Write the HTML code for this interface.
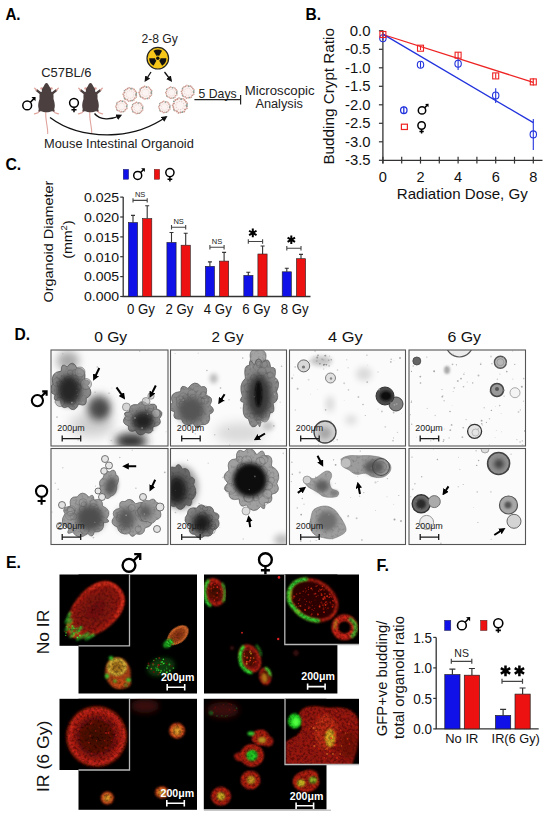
<!DOCTYPE html>
<html><head><meta charset="utf-8">
<style>
html,body{margin:0;padding:0;background:#fff;}
body{width:550px;height:816px;overflow:hidden;position:relative;}
svg{position:absolute;left:0;top:0;display:block;}
text{font-family:"Liberation Sans",sans-serif;}
</style></head><body>
<svg width="550" height="816" viewBox="0 0 550 816">
<defs>
  <g id="mouse">
    <path d="M-0.6,28.5 C-1.6,36 1.6,44 1.2,51" fill="none" stroke="#e0a39c" stroke-width="1.1"/>
    <path d="M-5.8,26.5 L-8.6,29.8 L-12,30.8 M5.8,26.5 L8.6,29.8 L12,30.8" stroke="#e0a39c" stroke-width="1.3" fill="none" stroke-linecap="round"/>
    <path d="M-5,11 L-10.3,6.8 M5,11 L10.3,6.8" stroke="#4b3f3f" stroke-width="2.3" fill="none"/>
    <path d="M-10,7 L-11.8,5.2 M10,7 L11.8,5.2" stroke="#e0a39c" stroke-width="1.3" fill="none" stroke-linecap="round"/>
    <ellipse cx="-4.8" cy="5.4" rx="1.4" ry="1.2" fill="#e0a39c"/><ellipse cx="4.8" cy="5.4" rx="1.4" ry="1.2" fill="#e0a39c"/>
    <path d="M0,0 C1.2,0 2,1.5 2.6,3 L4,5.2 C4.8,6.2 4.8,7.2 4.5,8.2 L6.6,10.3 C7.2,12 7,14 7,16 C7.6,18 8.4,20.5 8.3,23 C8.2,25.5 7.3,27 6,28 C4,29 2,29.3 0,29.3 C-2,29.3 -4,29 -6,28 C-7.3,27 -8.2,25.5 -8.3,23 C-8.4,20.5 -7.6,18 -7,16 C-7,14 -7.2,12 -6.6,10.3 L-4.5,8.2 C-4.8,7.2 -4.8,6.2 -4,5.2 L-2.6,3 C-2,1.5 -1.2,0 0,0 Z" fill="#4b3f3f"/>
    <path d="M-6.5,25 L-7.2,28.5 M6.5,25 L7.2,28.5" stroke="#4b3f3f" stroke-width="2" fill="none"/>
  </g>
  <g id="org"><path d="M5.60,0.00 Q7.14,2.60 4.29,3.60 Q3.80,6.58 0.97,5.51 Q-1.32,7.48 -2.80,4.85 Q-5.82,4.89 -5.26,1.92 Q-7.60,0.00 -5.26,-1.92 Q-5.82,-4.89 -2.80,-4.85 Q-1.32,-7.48 0.97,-5.51 Q3.80,-6.58 4.29,-3.60 Q7.14,-2.60 5.60,-0.00 Z" fill="#fbf4f2" stroke="#c8948a" stroke-width="1.5" stroke-dasharray="1.3 0.5"/><path d="M5.60,0.00 Q7.14,2.60 4.29,3.60 Q3.80,6.58 0.97,5.51 Q-1.32,7.48 -2.80,4.85 Q-5.82,4.89 -5.26,1.92 Q-7.60,0.00 -5.26,-1.92 Q-5.82,-4.89 -2.80,-4.85 Q-1.32,-7.48 0.97,-5.51 Q3.80,-6.58 4.29,-3.60 Q7.14,-2.60 5.60,-0.00 Z" fill="none" stroke="#6fa8a0" stroke-width="1.3" stroke-dasharray="0.8 7"/><circle r="3.6" fill="none" stroke="#e6ccc6" stroke-width="0.9" stroke-dasharray="1 1.2"/></g>
  <marker id="ah" viewBox="0 0 10 10" refX="7" refY="5" markerWidth="4.6" markerHeight="4.6" orient="auto"><path d="M0,0 L10,5 L0,10 z" fill="#111"/></marker>
</defs>
<!-- A -->
<text x="5.4" y="20" font-size="16.5" font-weight="bold" fill="#000" textLength="15.2" lengthAdjust="spacingAndGlyphs">A.</text>
<text x="41.2" y="76.6" font-size="12.4" fill="#222" textLength="50.4" lengthAdjust="spacingAndGlyphs">C57BL/6</text>
<g transform="translate(27.2,105.4)"><circle r="4.4" fill="none" stroke="#000" stroke-width="1.5"/><path d="M3.17,-3.17 L6.52,-6.52" fill="none" stroke="#000" stroke-width="1.5"/><path d="M8.40,-8.40 L4.22,-8.30 L8.30,-4.22 Z" fill="#000"/></g>
<g transform="translate(74,102.8)"><circle r="4.4" fill="none" stroke="#000" stroke-width="1.5"/><path d="M0,4.40 L0,9.46 M-2.55,7.04 L2.55,7.04" fill="none" stroke="#000" stroke-width="1.5"/></g>
<use href="#mouse" x="46.5" y="83"/>
<use href="#mouse" x="90.5" y="83"/>
<path d="M50,117.5 C68,131 92,136 116,134.5 C137,133 153,126 166,117" fill="none" stroke="#111" stroke-width="1.3" marker-end="url(#ah)"/>
<path d="M94.5,113.5 C100,120.5 111,120 120.5,115.5" fill="none" stroke="#111" stroke-width="1.3" marker-end="url(#ah)"/>
<text x="44" y="147.5" font-size="13" fill="#222" textLength="149.8" lengthAdjust="spacingAndGlyphs">Mouse Intestinal Organoid</text>
<text x="141.4" y="43.4" font-size="12.4" fill="#222" textLength="36.4" lengthAdjust="spacingAndGlyphs">2-8 Gy</text>
<g transform="translate(157.8,58.2)">
  <circle r="10.8" fill="#f6c619" stroke="#222" stroke-width="1.2"/>
  <path d="M0,0 L-4.3,-7.45 A8.6,8.6 0 0 1 4.3,-7.45 Z" fill="#111"/>
  <path d="M0,0 L-4.3,-7.45 A8.6,8.6 0 0 1 4.3,-7.45 Z" fill="#111" transform="rotate(120)"/>
  <path d="M0,0 L-4.3,-7.45 A8.6,8.6 0 0 1 4.3,-7.45 Z" fill="#111" transform="rotate(240)"/>
  <circle r="2.6" fill="#f6c619"/><circle r="1.7" fill="#111"/>
</g>
<path d="M151,72 L145.5,80.5" stroke="#111" stroke-width="1.3" marker-end="url(#ah)"/>
<path d="M164.5,72 L171,80.5" stroke="#111" stroke-width="1.3" marker-end="url(#ah)"/>
<use href="#org" transform="translate(130,94.5) scale(1.05)"/>
<use href="#org" transform="translate(145.5,92.7) scale(1)"/>
<use href="#org" transform="translate(121.5,106.4) scale(0.9)"/>
<use href="#org" transform="translate(137.3,108) scale(0.9)"/>
<use href="#org" transform="translate(171.5,92.7) scale(0.9)"/>
<use href="#org" transform="translate(187.8,91.8) scale(1)"/>
<use href="#org" transform="translate(164.5,107) scale(0.9)"/>
<use href="#org" transform="translate(180,105.5) scale(1.15)"/>
<text x="198.6" y="98.4" font-size="12.8" fill="#222" textLength="38" lengthAdjust="spacingAndGlyphs">5 Days</text>
<path d="M194.4,99.6 L240.6,99.6 M240.6,95 L240.6,104.5" stroke="#222" stroke-width="1.2" fill="none"/>
<text x="244.8" y="94.5" font-size="12" fill="#222" textLength="69.8" lengthAdjust="spacingAndGlyphs">Microscopic</text>
<text x="255.4" y="107.6" font-size="12" fill="#222" textLength="47.5" lengthAdjust="spacingAndGlyphs">Analysis</text>
<!-- B -->
<text x="305.6" y="20" font-size="16" font-weight="bold" fill="#000" textLength="15.6" lengthAdjust="spacingAndGlyphs">B.</text>
<path d="M382.9,30.3 L382.9,163.5 M382.9,160.3 L542.5,160.3" fill="none" stroke="#333" stroke-width="1.3"/>
<path d="M378.9,30.8 L382.9,30.8" stroke="#333" stroke-width="1.2"/>
<text x="349.79999999999995" y="35.9" font-size="15" fill="#111" textLength="20.8" lengthAdjust="spacingAndGlyphs">0.0</text>
<path d="M378.9,49.3 L382.9,49.3" stroke="#333" stroke-width="1.2"/>
<text x="344.99999999999994" y="54.4" font-size="15" fill="#111" textLength="25.6" lengthAdjust="spacingAndGlyphs">-0.5</text>
<path d="M378.9,67.8 L382.9,67.8" stroke="#333" stroke-width="1.2"/>
<text x="344.99999999999994" y="72.9" font-size="15" fill="#111" textLength="25.6" lengthAdjust="spacingAndGlyphs">-1.0</text>
<path d="M378.9,86.3 L382.9,86.3" stroke="#333" stroke-width="1.2"/>
<text x="344.99999999999994" y="91.4" font-size="15" fill="#111" textLength="25.6" lengthAdjust="spacingAndGlyphs">-1.5</text>
<path d="M378.9,104.8 L382.9,104.8" stroke="#333" stroke-width="1.2"/>
<text x="344.99999999999994" y="109.9" font-size="15" fill="#111" textLength="25.6" lengthAdjust="spacingAndGlyphs">-2.0</text>
<path d="M378.9,123.3 L382.9,123.3" stroke="#333" stroke-width="1.2"/>
<text x="344.99999999999994" y="128.4" font-size="15" fill="#111" textLength="25.6" lengthAdjust="spacingAndGlyphs">-2.5</text>
<path d="M378.9,141.8 L382.9,141.8" stroke="#333" stroke-width="1.2"/>
<text x="344.99999999999994" y="146.9" font-size="15" fill="#111" textLength="25.6" lengthAdjust="spacingAndGlyphs">-3.0</text>
<path d="M378.9,160.3 L382.9,160.3" stroke="#333" stroke-width="1.2"/>
<text x="344.99999999999994" y="165.4" font-size="15" fill="#111" textLength="25.6" lengthAdjust="spacingAndGlyphs">-3.5</text>
<path d="M382.9,156.8 L382.9,163.6" stroke="#333" stroke-width="1.2"/>
<text x="382.9" y="182.2" font-size="14.6" text-anchor="middle" fill="#111">0</text>
<path d="M401.7,156.8 L401.7,163.6" stroke="#333" stroke-width="1.2"/>
<path d="M420.5,156.8 L420.5,163.6" stroke="#333" stroke-width="1.2"/>
<text x="420.5" y="182.2" font-size="14.6" text-anchor="middle" fill="#111">2</text>
<path d="M439.3,156.8 L439.3,163.6" stroke="#333" stroke-width="1.2"/>
<path d="M458.1,156.8 L458.1,163.6" stroke="#333" stroke-width="1.2"/>
<text x="458.1" y="182.2" font-size="14.6" text-anchor="middle" fill="#111">4</text>
<path d="M476.9,156.8 L476.9,163.6" stroke="#333" stroke-width="1.2"/>
<path d="M495.7,156.8 L495.7,163.6" stroke="#333" stroke-width="1.2"/>
<text x="495.7" y="182.2" font-size="14.6" text-anchor="middle" fill="#111">6</text>
<path d="M514.5,156.8 L514.5,163.6" stroke="#333" stroke-width="1.2"/>
<path d="M533.3,156.8 L533.3,163.6" stroke="#333" stroke-width="1.2"/>
<text x="533.3" y="182.2" font-size="14.6" text-anchor="middle" fill="#111">8</text>
<text x="462.3" y="199.3" font-size="15" text-anchor="middle" fill="#111" textLength="131" lengthAdjust="spacingAndGlyphs">Radiation Dose, Gy</text>
<text transform="translate(334.3,96.3) rotate(-90)" font-size="14" text-anchor="middle" fill="#111" textLength="136.5" lengthAdjust="spacingAndGlyphs">Budding Crypt Ratio</text>
<path d="M382.9,34.5 L533.3,82.4" stroke="#ee2222" stroke-width="1.3"/>
<path d="M382.9,34.1 L533.3,122.6" stroke="#2233dd" stroke-width="1.3"/>
<path d="M382.9,36.4 L382.9,40.0" stroke="#2233dd" stroke-width="1.1"/>
<ellipse cx="382.9" cy="38.2" rx="3.2" ry="3.5" fill="none" stroke="#2233dd" stroke-width="1.1"/>
<path d="M420.5,61.9 L420.5,67.8" stroke="#2233dd" stroke-width="1.1"/>
<ellipse cx="420.5" cy="64.8" rx="3.2" ry="3.5" fill="none" stroke="#2233dd" stroke-width="1.1"/>
<path d="M458.1,57.4 L458.1,70.0" stroke="#2233dd" stroke-width="1.1"/>
<ellipse cx="458.1" cy="63.7" rx="3.2" ry="3.5" fill="none" stroke="#2233dd" stroke-width="1.1"/>
<path d="M495.7,88.2 L495.7,102.9" stroke="#2233dd" stroke-width="1.1"/>
<ellipse cx="495.7" cy="95.5" rx="3.2" ry="3.5" fill="none" stroke="#2233dd" stroke-width="1.1"/>
<path d="M533.3,118.9 L533.3,149.9" stroke="#2233dd" stroke-width="1.1"/>
<ellipse cx="533.3" cy="134.4" rx="3.2" ry="3.5" fill="none" stroke="#2233dd" stroke-width="1.1"/>
<path d="M382.9,32.6 L382.9,36.4" stroke="#ee2222" stroke-width="1.1"/>
<rect x="379.9" y="31.5" width="6" height="6" fill="none" stroke="#ee2222" stroke-width="1.1"/>
<path d="M420.5,46.3 L420.5,50.0" stroke="#ee2222" stroke-width="1.1"/>
<rect x="417.5" y="45.2" width="6" height="6" fill="none" stroke="#ee2222" stroke-width="1.1"/>
<path d="M458.1,52.3 L458.1,58.2" stroke="#ee2222" stroke-width="1.1"/>
<rect x="455.1" y="52.2" width="6" height="6" fill="none" stroke="#ee2222" stroke-width="1.1"/>
<path d="M495.7,73.3 L495.7,78.5" stroke="#ee2222" stroke-width="1.1"/>
<rect x="492.7" y="72.9" width="6" height="6" fill="none" stroke="#ee2222" stroke-width="1.1"/>
<path d="M533.3,78.2 L533.3,85.6" stroke="#ee2222" stroke-width="1.1"/>
<rect x="530.3" y="78.9" width="6" height="6" fill="none" stroke="#ee2222" stroke-width="1.1"/>
<path d="M403.8,106.4 L403.8,114" stroke="#2233dd" stroke-width="1.3"/><ellipse cx="403.8" cy="110.2" rx="3.2" ry="3.3" fill="none" stroke="#2233dd" stroke-width="1.3"/>
<rect x="401.4" y="124.2" width="6" height="5.3" fill="none" stroke="#ee2222" stroke-width="1.2"/>
<g transform="translate(422,110.4)"><circle r="3.7" fill="none" stroke="#000" stroke-width="1.5"/><path d="M2.66,-2.66 L5.02,-5.02" fill="none" stroke="#000" stroke-width="1.5"/><path d="M6.60,-6.60 L3.08,-6.50 L6.50,-3.08 Z" fill="#000"/></g>
<g transform="translate(421.6,125.5)"><circle r="3.7" fill="none" stroke="#000" stroke-width="1.5"/><path d="M0,3.70 L0,7.96 M-2.15,5.92 L2.15,5.92" fill="none" stroke="#000" stroke-width="1.5"/></g>
<!-- C -->
<text x="5.4" y="170.3" font-size="16.5" font-weight="bold" fill="#000" textLength="15.8" lengthAdjust="spacingAndGlyphs">C.</text>
<path d="M123.2,197.1 L123.2,296.5 L310.5,296.5" fill="none" stroke="#333" stroke-width="1.3"/>
<path d="M120.2,296.5 L123.2,296.5" stroke="#333" stroke-width="1.2"/>
<text x="84" y="301.3" font-size="13.2" fill="#111" textLength="35.2" lengthAdjust="spacingAndGlyphs">0.000</text>
<path d="M120.2,276.6 L123.2,276.6" stroke="#333" stroke-width="1.2"/>
<text x="84" y="281.4" font-size="13.2" fill="#111" textLength="35.2" lengthAdjust="spacingAndGlyphs">0.005</text>
<path d="M120.2,256.7 L123.2,256.7" stroke="#333" stroke-width="1.2"/>
<text x="84" y="261.5" font-size="13.2" fill="#111" textLength="35.2" lengthAdjust="spacingAndGlyphs">0.010</text>
<path d="M120.2,236.9 L123.2,236.9" stroke="#333" stroke-width="1.2"/>
<text x="84" y="241.7" font-size="13.2" fill="#111" textLength="35.2" lengthAdjust="spacingAndGlyphs">0.015</text>
<path d="M120.2,217.0 L123.2,217.0" stroke="#333" stroke-width="1.2"/>
<text x="84" y="221.8" font-size="13.2" fill="#111" textLength="35.2" lengthAdjust="spacingAndGlyphs">0.020</text>
<path d="M120.2,197.1 L123.2,197.1" stroke="#333" stroke-width="1.2"/>
<text x="84" y="201.9" font-size="13.2" fill="#111" textLength="35.2" lengthAdjust="spacingAndGlyphs">0.025</text>
<text transform="translate(52.6,241.6) rotate(-90)" font-size="13.3" text-anchor="middle" fill="#111" textLength="122" lengthAdjust="spacingAndGlyphs">Organoid Diameter</text>
<text transform="translate(71.6,239.6) rotate(-90)" font-size="13.3" text-anchor="middle" fill="#111" textLength="38.5" lengthAdjust="spacingAndGlyphs">(mm<tspan font-size="9" dy="-5">2</tspan><tspan dy="5">)</tspan></text>
<path d="M133.0,222.5 L133.0,215.4 M131.0,215.4 L135.0,215.4" stroke="#333" stroke-width="1.1"/>
<rect x="128.4" y="222.5" width="9.2" height="74.0" fill="#1010e8" stroke="#222" stroke-width="0.6"/>
<path d="M147.2,218.6 L147.2,205.8 M145.2,205.8 L149.2,205.8" stroke="#333" stroke-width="1.1"/>
<rect x="142.6" y="218.6" width="9.2" height="77.9" fill="#ee1111" stroke="#222" stroke-width="0.6"/>
<path d="M133.0,200.4 L147.2,200.4 M133.0,198.2 L133.0,202.6 M147.2,198.2 L147.2,202.6" stroke="#444" stroke-width="1.1"/>
<text x="140.1" y="197.4" font-size="7.5" text-anchor="middle" fill="#222">NS</text>
<text x="140.9" y="313.5" font-size="14" text-anchor="middle" fill="#111" textLength="28" lengthAdjust="spacingAndGlyphs">0 Gy</text>
<path d="M171.5,242.4 L171.5,232.5 M169.5,232.5 L173.5,232.5" stroke="#333" stroke-width="1.1"/>
<rect x="166.9" y="242.4" width="9.2" height="54.1" fill="#1010e8" stroke="#222" stroke-width="0.6"/>
<path d="M185.7,245.2 L185.7,233.3 M183.7,233.3 L187.7,233.3" stroke="#333" stroke-width="1.1"/>
<rect x="181.1" y="245.2" width="9.2" height="51.3" fill="#ee1111" stroke="#222" stroke-width="0.6"/>
<path d="M171.5,227.2 L185.7,227.2 M171.5,225.0 L171.5,229.4 M185.7,225.0 L185.7,229.4" stroke="#444" stroke-width="1.1"/>
<text x="178.6" y="224.2" font-size="7.5" text-anchor="middle" fill="#222">NS</text>
<text x="179.4" y="313.5" font-size="14" text-anchor="middle" fill="#111" textLength="28" lengthAdjust="spacingAndGlyphs">2 Gy</text>
<path d="M209.9,266.3 L209.9,261.9 M207.9,261.9 L211.9,261.9" stroke="#333" stroke-width="1.1"/>
<rect x="205.3" y="266.3" width="9.2" height="30.2" fill="#1010e8" stroke="#222" stroke-width="0.6"/>
<path d="M224.1,261.1 L224.1,252.4 M222.1,252.4 L226.1,252.4" stroke="#333" stroke-width="1.1"/>
<rect x="219.5" y="261.1" width="9.2" height="35.4" fill="#ee1111" stroke="#222" stroke-width="0.6"/>
<path d="M209.9,247.3 L224.1,247.3 M209.9,245.1 L209.9,249.5 M224.1,245.1 L224.1,249.5" stroke="#444" stroke-width="1.1"/>
<text x="217.0" y="244.3" font-size="7.5" text-anchor="middle" fill="#222">NS</text>
<text x="217.8" y="313.5" font-size="14" text-anchor="middle" fill="#111" textLength="28" lengthAdjust="spacingAndGlyphs">4 Gy</text>
<path d="M248.3,275.4 L248.3,272.2 M246.3,272.2 L250.3,272.2" stroke="#333" stroke-width="1.1"/>
<rect x="243.8" y="275.4" width="9.2" height="21.1" fill="#1010e8" stroke="#222" stroke-width="0.6"/>
<path d="M262.6,254.0 L262.6,246.0 M260.6,246.0 L264.6,246.0" stroke="#333" stroke-width="1.1"/>
<rect x="257.9" y="254.0" width="9.2" height="42.5" fill="#ee1111" stroke="#222" stroke-width="0.6"/>
<path d="M248.3,241.5 L262.6,241.5 M248.3,239.3 L248.3,243.7 M262.6,239.3 L262.6,243.7" stroke="#444" stroke-width="1.1"/>
<path d="M252.80,228.60 L252.80,237.20 M249.08,230.75 L256.52,235.05 M256.52,230.75 L249.08,235.05 " stroke="#000" stroke-width="2.0" stroke-linecap="butt"/>
<text x="256.2" y="313.5" font-size="14" text-anchor="middle" fill="#111" textLength="28" lengthAdjust="spacingAndGlyphs">6 Gy</text>
<path d="M286.8,271.8 L286.8,268.3 M284.8,268.3 L288.8,268.3" stroke="#333" stroke-width="1.1"/>
<rect x="282.2" y="271.8" width="9.2" height="24.7" fill="#1010e8" stroke="#222" stroke-width="0.6"/>
<path d="M301.0,258.7 L301.0,254.4 M299.0,254.4 L303.0,254.4" stroke="#333" stroke-width="1.1"/>
<rect x="296.4" y="258.7" width="9.2" height="37.8" fill="#ee1111" stroke="#222" stroke-width="0.6"/>
<path d="M286.8,248.3 L301.0,248.3 M286.8,246.1 L286.8,250.5 M301.0,246.1 L301.0,250.5" stroke="#444" stroke-width="1.1"/>
<path d="M291.30,235.40 L291.30,244.00 M287.58,237.55 L295.02,241.85 M295.02,237.55 L287.58,241.85 " stroke="#000" stroke-width="2.0" stroke-linecap="butt"/>
<text x="294.7" y="313.5" font-size="14" text-anchor="middle" fill="#111" textLength="28" lengthAdjust="spacingAndGlyphs">8 Gy</text>
<rect x="123.2" y="169.3" width="5.5" height="10" fill="#1010e8" stroke="#224" stroke-width="0.4"/><g transform="translate(137.7,175.4)"><circle r="4" fill="none" stroke="#000" stroke-width="1.5"/><path d="M2.88,-2.88 L5.49,-5.49" fill="none" stroke="#000" stroke-width="1.5"/><path d="M7.20,-7.20 L3.40,-7.10 L7.10,-3.40 Z" fill="#000"/></g>
<rect x="154.2" y="169.3" width="5.5" height="10" fill="#ee1111" stroke="#422" stroke-width="0.4"/><g transform="translate(169.9,172.6)"><circle r="4.1" fill="none" stroke="#000" stroke-width="1.5"/><path d="M0,4.10 L0,8.81 M-2.38,6.56 L2.38,6.56" fill="none" stroke="#000" stroke-width="1.5"/></g>
<!-- F -->
<text x="376.6" y="571.2" font-size="17" font-weight="bold" fill="#000" textLength="12.5" lengthAdjust="spacingAndGlyphs">F.</text>
<path d="M436.2,637.4 L436.2,728.9 L538.7,728.9" fill="none" stroke="#333" stroke-width="1.3"/>
<path d="M433.2,728.9 L436.2,728.9" stroke="#333" stroke-width="1.2"/>
<text x="413.3" y="734.1" font-size="14" fill="#111" textLength="18.8" lengthAdjust="spacingAndGlyphs">0.0</text>
<path d="M433.2,698.4 L436.2,698.4" stroke="#333" stroke-width="1.2"/>
<text x="413.3" y="703.6" font-size="14" fill="#111" textLength="18.8" lengthAdjust="spacingAndGlyphs">0.5</text>
<path d="M433.2,667.9 L436.2,667.9" stroke="#333" stroke-width="1.2"/>
<text x="413.3" y="673.1" font-size="14" fill="#111" textLength="18.8" lengthAdjust="spacingAndGlyphs">1.0</text>
<path d="M433.2,637.4 L436.2,637.4" stroke="#333" stroke-width="1.2"/>
<text x="413.3" y="642.6" font-size="14" fill="#111" textLength="18.8" lengthAdjust="spacingAndGlyphs">1.5</text>
<text transform="translate(387.3,678.5) rotate(-90)" font-size="13.8" text-anchor="middle" fill="#111" textLength="115.5" lengthAdjust="spacingAndGlyphs">GFP+ve budding/</text>
<text transform="translate(403.6,677.5) rotate(-90)" font-size="13.8" text-anchor="middle" fill="#111" textLength="122.8" lengthAdjust="spacingAndGlyphs">total organoid ratio</text>
<path d="M452.4,674.6 L452.4,669.1 M449.4,669.1 L455.4,669.1" stroke="#333" stroke-width="1.2"/>
<rect x="444.8" y="674.6" width="15.2" height="54.3" fill="#1010e8" stroke="#222" stroke-width="0.7"/>
<path d="M471.9,675.2 L471.9,668.5 M468.9,668.5 L474.9,668.5" stroke="#333" stroke-width="1.2"/>
<rect x="464.3" y="675.2" width="15.2" height="53.7" fill="#ee1111" stroke="#222" stroke-width="0.7"/>
<path d="M451.3,661.3 L471.8,661.3 M451.3,658.8 L451.3,663.8 M471.8,658.8 L471.8,663.8" stroke="#444" stroke-width="1.2"/>
<text x="461.6" y="657.3" font-size="10.5" text-anchor="middle" fill="#222">NS</text>
<path d="M503.1,715.5 L503.1,709.4 M500.1,709.4 L506.1,709.4" stroke="#333" stroke-width="1.2"/>
<rect x="495.5" y="715.5" width="15.2" height="13.4" fill="#1010e8" stroke="#222" stroke-width="0.7"/>
<path d="M522.6,694.1 L522.6,688.0 M519.6,688.0 L525.6,688.0" stroke="#333" stroke-width="1.2"/>
<rect x="515.0" y="694.1" width="15.2" height="34.8" fill="#ee1111" stroke="#222" stroke-width="0.7"/>
<path d="M502.0,681.3 L522.5,681.3 M502.0,678.8 L502.0,683.8 M522.5,678.8 L522.5,683.8" stroke="#444" stroke-width="1.2"/>
<path d="M505.50,665.50 L505.50,676.30 M500.82,668.20 L510.18,673.60 M510.18,668.20 L500.82,673.60 " stroke="#000" stroke-width="2.5" stroke-linecap="butt"/><path d="M519.40,665.50 L519.40,676.30 M514.72,668.20 L524.08,673.60 M524.08,668.20 L514.72,673.60 " stroke="#000" stroke-width="2.5" stroke-linecap="butt"/>
<text x="445.3" y="743.3" font-size="13.5" fill="#111" textLength="33" lengthAdjust="spacingAndGlyphs">No IR</text>
<text x="491.6" y="743.3" font-size="13.5" fill="#111" textLength="48.2" lengthAdjust="spacingAndGlyphs">IR(6 Gy)</text>
<rect x="444.6" y="620.3" width="6.2" height="10.2" fill="#1010e8" stroke="#224" stroke-width="0.5"/><g transform="translate(461.9,625.4)"><circle r="4.4" fill="none" stroke="#000" stroke-width="1.6"/><path d="M3.17,-3.17 L6.42,-6.42" fill="none" stroke="#000" stroke-width="1.6"/><path d="M8.30,-8.30 L4.12,-8.20 L8.20,-4.12 Z" fill="#000"/></g>
<rect x="480.6" y="620.3" width="6.4" height="10.2" fill="#ee1111" stroke="#422" stroke-width="0.5"/><g transform="translate(498.3,623.2)"><circle r="4.5" fill="none" stroke="#000" stroke-width="1.6"/><path d="M0,4.50 L0,9.67 M-2.61,7.20 L2.61,7.20" fill="none" stroke="#000" stroke-width="1.6"/></g>
<!-- ===== Panel D ===== -->
<defs>
<filter id="bl1" x="-50%" y="-50%" width="200%" height="200%"><feGaussianBlur stdDeviation="1"/></filter>
<filter id="bl2" x="-50%" y="-50%" width="200%" height="200%"><feGaussianBlur stdDeviation="2"/></filter>
<filter id="bl3" x="-50%" y="-50%" width="200%" height="200%"><feGaussianBlur stdDeviation="3"/></filter>
<filter id="bl4" x="-50%" y="-50%" width="200%" height="200%"><feGaussianBlur stdDeviation="4.5"/></filter>
<filter id="bl6" x="-50%" y="-50%" width="200%" height="200%"><feGaussianBlur stdDeviation="6"/></filter>
<filter id="gtex" x="-20%" y="-20%" width="140%" height="140%">
 <feGaussianBlur in="SourceGraphic" stdDeviation="0.7" result="b"/>
 <feTurbulence type="fractalNoise" baseFrequency="0.32" numOctaves="3" seed="11" result="n"/>
 <feColorMatrix in="n" type="matrix" values="0.9 0 0 0 0.55  0.9 0 0 0 0.55  0.9 0 0 0 0.55  0 0 0 0 1" result="g"/>
 <feComposite in="b" in2="g" operator="arithmetic" k1="1" k2="0" k3="0" k4="0" result="c"/>
 <feGaussianBlur in="c" stdDeviation="0.4"/>
</filter>
<marker id="dah" viewBox="0 0 10 10" refX="5" refY="5" markerWidth="3.3" markerHeight="3.3" orient="auto"><path d="M0,0 L10,5 L0,10 z" fill="#000"/></marker>
</defs>
<text x="14.6" y="340.4" font-size="17" font-weight="bold" textLength="15.6" lengthAdjust="spacingAndGlyphs">D.</text>
<text x="94.2" y="342" font-size="14.5" fill="#111" textLength="33.0" lengthAdjust="spacingAndGlyphs">0 Gy</text>
<text x="211.4" y="342" font-size="14.5" fill="#111" textLength="32.1" lengthAdjust="spacingAndGlyphs">2 Gy</text>
<text x="328" y="342" font-size="14.5" fill="#111" textLength="34.7" lengthAdjust="spacingAndGlyphs">4 Gy</text>
<text x="447.4" y="342" font-size="14.5" fill="#111" textLength="33.7" lengthAdjust="spacingAndGlyphs">6 Gy</text>
<g transform="translate(37.4,400.6)"><circle r="5.6" fill="none" stroke="#000" stroke-width="2.1"/><path d="M4,-4 L9,-9 M4.8,-9.2 L9.2,-9.2 L9.2,-4.8" fill="none" stroke="#000" stroke-width="2.1"/></g>
<g transform="translate(41.6,491.2)"><circle r="5.6" fill="none" stroke="#000" stroke-width="2.1"/><path d="M0,5.6 L0,13.5 M-4,9.8 L4,9.8" fill="none" stroke="#000" stroke-width="2.1"/></g>
<clipPath id="dclip00"><rect x="51" y="350" width="117" height="96"/></clipPath>
<g clip-path="url(#dclip00)">
<rect x="51" y="350" width="117" height="96" fill="#fbfbfb"/>
<ellipse cx="68" cy="361" rx="11" ry="10" fill="#a8a8a8" filter="url(#bl4)"/>
<ellipse cx="92" cy="425" rx="22" ry="12" fill="#d0d0d0" filter="url(#bl6)"/>
<path d="M87.7,385.5 Q94.9,394.0 86.3,398.5 Q87.4,408.0 78.6,404.1 Q74.5,414.1 68.0,406.6 Q60.7,410.6 60.4,399.9 Q52.1,402.3 55.0,395.0 Q46.0,391.0 52.8,384.1 Q49.8,372.2 61.2,371.1 Q61.1,361.4 67.2,367.1 Q72.7,358.7 77.0,368.1 Q86.7,367.8 84.8,379.9 Q92.7,380.7 87.7,385.5 Z" fill="#8c8c8c" stroke="#505050" stroke-width="0.7" filter="url(#gtex)"/>
<g opacity="0.55"><circle cx="78.4" cy="387.6" r="3.3" fill="none" stroke="#555" stroke-width="0.6"/><circle cx="67.9" cy="378.9" r="2.7" fill="none" stroke="#555" stroke-width="0.6"/><circle cx="72.5" cy="402.0" r="2.8" fill="none" stroke="#555" stroke-width="0.6"/><circle cx="70.3" cy="372.7" r="2.8" fill="none" stroke="#555" stroke-width="0.6"/><circle cx="60.3" cy="384.2" r="3.3" fill="none" stroke="#555" stroke-width="0.6"/><circle cx="78.2" cy="386.8" r="2.5" fill="none" stroke="#555" stroke-width="0.6"/><circle cx="80.8" cy="382.6" r="2.9" fill="none" stroke="#555" stroke-width="0.6"/><circle cx="66.1" cy="397.1" r="4.4" fill="none" stroke="#555" stroke-width="0.6"/><circle cx="73.1" cy="396.5" r="3.7" fill="none" stroke="#555" stroke-width="0.6"/><circle cx="56.9" cy="382.1" r="4.2" fill="none" stroke="#555" stroke-width="0.6"/><circle cx="65.8" cy="394.6" r="4.2" fill="none" stroke="#555" stroke-width="0.6"/><circle cx="77.3" cy="386.5" r="4.0" fill="none" stroke="#555" stroke-width="0.6"/><circle cx="79.5" cy="376.5" r="2.9" fill="none" stroke="#555" stroke-width="0.6"/><circle cx="74.8" cy="372.7" r="2.9" fill="none" stroke="#555" stroke-width="0.6"/></g>
<circle cx="86" cy="384" r="5.5" fill="#999" stroke="#666" stroke-width="0.6" fill-opacity="0.5"/>
<circle cx="80" cy="372" r="5" fill="#999" stroke="#666" stroke-width="0.6" fill-opacity="0.5"/>
<circle cx="60" cy="402" r="4.5" fill="#999" stroke="#666" stroke-width="0.6" fill-opacity="0.5"/>
<ellipse cx="69" cy="390" rx="12" ry="15" fill="#262626" filter="url(#bl3)"/>
<ellipse cx="99" cy="408" rx="12" ry="13" fill="#585858" filter="url(#bl4)"/>
<ellipse cx="100" cy="409" rx="6" ry="6" fill="#454545" filter="url(#bl3)"/>
<path d="M159.5,418.6 Q163.0,425.6 153.1,426.8 Q153.1,435.1 145.5,432.6 Q139.6,438.3 135.5,430.7 Q127.4,433.3 128.3,426.0 Q119.8,422.6 125.9,416.1 Q121.7,411.9 129.5,411.8 Q128.8,403.4 137.3,404.7 Q143.3,398.2 148.5,405.2 Q157.1,401.7 156.7,408.9 Q165.7,411.7 159.5,418.6 Z" fill="#8e8e8e" stroke="#555" stroke-width="0.7" filter="url(#gtex)"/>
<g opacity="0.55"><circle cx="149.1" cy="421.5" r="3.1" fill="none" stroke="#555" stroke-width="0.6"/><circle cx="150.6" cy="412.2" r="3.9" fill="none" stroke="#555" stroke-width="0.6"/><circle cx="150.6" cy="423.8" r="4.2" fill="none" stroke="#555" stroke-width="0.6"/><circle cx="128.5" cy="416.2" r="4.3" fill="none" stroke="#555" stroke-width="0.6"/><circle cx="138.3" cy="421.7" r="4.0" fill="none" stroke="#555" stroke-width="0.6"/><circle cx="145.9" cy="421.7" r="4.0" fill="none" stroke="#555" stroke-width="0.6"/><circle cx="149.2" cy="407.9" r="4.4" fill="none" stroke="#555" stroke-width="0.6"/><circle cx="144.0" cy="423.8" r="2.7" fill="none" stroke="#555" stroke-width="0.6"/><circle cx="148.9" cy="417.1" r="2.8" fill="none" stroke="#555" stroke-width="0.6"/><circle cx="148.1" cy="418.7" r="2.6" fill="none" stroke="#555" stroke-width="0.6"/><circle cx="137.5" cy="423.6" r="3.1" fill="none" stroke="#555" stroke-width="0.6"/><circle cx="148.8" cy="415.0" r="4.1" fill="none" stroke="#555" stroke-width="0.6"/></g>
<circle cx="146" cy="401.5" r="4" fill="#bbb" stroke="#666" stroke-width="0.6" fill-opacity="0.6"/>
<circle cx="155.8" cy="413.5" r="4.2" fill="#bbb" stroke="#666" stroke-width="0.6" fill-opacity="0.6"/>
<circle cx="126.4" cy="407" r="4" fill="#bbb" stroke="#666" stroke-width="0.6" fill-opacity="0.6"/>
<circle cx="151" cy="396" r="3.2" fill="#bbb" stroke="#666" stroke-width="0.6" fill-opacity="0.6"/>
<ellipse cx="143" cy="421" rx="11" ry="10" fill="#222" filter="url(#bl3)"/>
<ellipse cx="131" cy="441" rx="16" ry="8" fill="#303030" filter="url(#bl4)"/>
<circle cx="67.5" cy="430.7" r="0.8" fill="#aaa" opacity="0.53"/><circle cx="109.0" cy="393.3" r="0.7" fill="#aaa" opacity="0.79"/><circle cx="62.8" cy="353.7" r="0.8" fill="#aaa" opacity="0.62"/><circle cx="139.7" cy="351.2" r="0.6" fill="#aaa" opacity="0.76"/><circle cx="78.3" cy="439.9" r="0.9" fill="#aaa" opacity="0.42"/><circle cx="54.9" cy="401.9" r="0.9" fill="#aaa" opacity="0.59"/><circle cx="76.9" cy="390.7" r="0.4" fill="#aaa" opacity="0.51"/><circle cx="102.4" cy="397.6" r="0.5" fill="#aaa" opacity="0.52"/><circle cx="77.2" cy="394.2" r="0.5" fill="#aaa" opacity="0.41"/><circle cx="148.3" cy="403.3" r="0.7" fill="#aaa" opacity="0.49"/><circle cx="166.1" cy="431.8" r="0.5" fill="#aaa" opacity="0.57"/><circle cx="135.0" cy="417.9" r="0.9" fill="#aaa" opacity="0.61"/><circle cx="147.5" cy="414.0" r="0.6" fill="#aaa" opacity="0.69"/><circle cx="153.5" cy="430.5" r="0.7" fill="#aaa" opacity="0.69"/><circle cx="56.0" cy="373.8" r="0.8" fill="#aaa" opacity="0.61"/><circle cx="71.9" cy="402.6" r="0.8" fill="#aaa" opacity="0.74"/><circle cx="95.1" cy="392.3" r="0.7" fill="#aaa" opacity="0.79"/><circle cx="111.9" cy="388.0" r="0.6" fill="#aaa" opacity="0.41"/><circle cx="57.0" cy="417.1" r="0.9" fill="#aaa" opacity="0.70"/><circle cx="97.3" cy="367.0" r="0.7" fill="#aaa" opacity="0.89"/><circle cx="140.6" cy="401.7" r="0.8" fill="#aaa" opacity="0.52"/><circle cx="111.1" cy="440.5" r="0.7" fill="#aaa" opacity="0.63"/><circle cx="83.0" cy="402.5" r="0.9" fill="#aaa" opacity="0.40"/><circle cx="142.1" cy="428.1" r="0.8" fill="#aaa" opacity="0.77"/><circle cx="145.1" cy="399.8" r="0.7" fill="#aaa" opacity="0.61"/>
<path d="M99.3,368 L94.6,377.8" stroke="#000" stroke-width="2" marker-end="url(#dah)"/>
<path d="M116.5,387.3 L123.2,396.8" stroke="#000" stroke-width="2" marker-end="url(#dah)"/>
<path d="M155.8,385.5 L151,395" stroke="#000" stroke-width="2" marker-end="url(#dah)"/>
<text x="57.3" y="430.6" font-size="8.8" fill="#1a1a1a" textLength="27.4" lengthAdjust="spacingAndGlyphs">200μm</text>
<path d="M62.2,438.6 L80.7,438.6 M62.2,435.6 L62.2,441.6 M80.7,435.6 L80.7,441.6" stroke="#1a1a1a" stroke-width="1.3"/>
</g>
<rect x="51" y="350" width="117" height="96" fill="none" stroke="#555" stroke-width="1.1"/>
<clipPath id="dclip10"><rect x="170.5" y="350" width="116.0" height="96"/></clipPath>
<g clip-path="url(#dclip10)">
<rect x="170.5" y="350" width="116.0" height="96" fill="#fbfbfb"/>
<ellipse cx="240" cy="433" rx="25" ry="10" fill="#d8d8d8" filter="url(#bl6)"/>
<path d="M209.9,405.1 Q217.3,411.1 209.5,414.3 Q211.4,426.0 200.6,424.8 Q197.8,431.8 192.8,423.1 Q184.2,428.7 181.4,419.1 Q171.4,420.3 174.6,412.2 Q164.9,408.4 172.4,402.8 Q168.5,392.4 180.5,391.5 Q180.5,382.9 187.9,388.4 Q194.7,378.5 201.3,386.8 Q208.8,384.8 205.8,395.2 Q215.0,397.3 209.9,405.1 Z" fill="#8c8c8c" stroke="#5a5a5a" stroke-width="0.7" filter="url(#gtex)"/>
<g opacity="0.55"><circle cx="180.3" cy="400.0" r="4.1" fill="none" stroke="#555" stroke-width="0.6"/><circle cx="190.6" cy="420.1" r="4.3" fill="none" stroke="#555" stroke-width="0.6"/><circle cx="200.9" cy="400.9" r="3.8" fill="none" stroke="#555" stroke-width="0.6"/><circle cx="183.4" cy="397.3" r="4.4" fill="none" stroke="#555" stroke-width="0.6"/><circle cx="180.8" cy="403.8" r="4.4" fill="none" stroke="#555" stroke-width="0.6"/><circle cx="185.9" cy="397.8" r="3.1" fill="none" stroke="#555" stroke-width="0.6"/><circle cx="185.5" cy="406.2" r="3.7" fill="none" stroke="#555" stroke-width="0.6"/><circle cx="191.9" cy="393.9" r="4.2" fill="none" stroke="#555" stroke-width="0.6"/><circle cx="205.1" cy="400.1" r="3.9" fill="none" stroke="#555" stroke-width="0.6"/><circle cx="198.6" cy="411.1" r="4.5" fill="none" stroke="#555" stroke-width="0.6"/><circle cx="190.9" cy="415.6" r="4.3" fill="none" stroke="#555" stroke-width="0.6"/><circle cx="193.0" cy="397.4" r="3.1" fill="none" stroke="#555" stroke-width="0.6"/><circle cx="193.5" cy="416.5" r="2.5" fill="none" stroke="#555" stroke-width="0.6"/><circle cx="182.3" cy="404.3" r="3.3" fill="none" stroke="#555" stroke-width="0.6"/><circle cx="196.3" cy="413.7" r="2.6" fill="none" stroke="#555" stroke-width="0.6"/><circle cx="203.5" cy="395.2" r="3.6" fill="none" stroke="#555" stroke-width="0.6"/><circle cx="199.4" cy="412.3" r="2.7" fill="none" stroke="#555" stroke-width="0.6"/><circle cx="189.9" cy="412.9" r="3.1" fill="none" stroke="#555" stroke-width="0.6"/></g>
<ellipse cx="191" cy="410" rx="13" ry="13" fill="#555" filter="url(#bl3)"/>
<ellipse cx="213.7" cy="378.5" rx="4" ry="5" fill="#bbb" filter="url(#bl2)"/>
<path d="M265.6,359.6 Q267.4,367.1 262.2,369.0 Q259.0,376.0 254.7,370.9 Q248.5,368.0 250.4,358.6 Q248.9,350.7 254.1,349.4 Q258.4,343.3 262.3,350.2 Q267.4,352.0 265.6,359.6 Z" fill="#a4a4a4" stroke="#6a6a6a" stroke-width="0.7" filter="url(#gtex)"/>
<path d="M276.6,391.6 Q280.1,400.1 273.1,403.5 Q275.8,413.7 270.2,412.9 Q268.0,426.4 261.2,420.3 Q259.9,431.5 258.3,423.4 Q251.3,432.6 248.4,419.0 Q241.0,417.3 243.9,402.4 Q237.8,401.8 242.4,396.2 Q238.1,384.9 245.4,378.3 Q242.9,364.9 249.3,365.3 Q249.4,356.3 254.3,365.4 Q257.8,353.7 262.4,362.7 Q269.0,355.0 270.8,367.7 Q277.3,365.7 274.8,377.2 Q281.4,381.7 276.6,391.6 Z" fill="#8a8a8a" stroke="#5a5a5a" stroke-width="0.7" filter="url(#gtex)"/>
<g opacity="0.55"><circle cx="248.4" cy="387.6" r="4.2" fill="none" stroke="#555" stroke-width="0.6"/><circle cx="270.2" cy="375.1" r="3.2" fill="none" stroke="#555" stroke-width="0.6"/><circle cx="269.0" cy="385.2" r="3.1" fill="none" stroke="#555" stroke-width="0.6"/><circle cx="268.4" cy="404.8" r="2.8" fill="none" stroke="#555" stroke-width="0.6"/><circle cx="257.8" cy="416.3" r="4.1" fill="none" stroke="#555" stroke-width="0.6"/><circle cx="259.6" cy="377.8" r="2.6" fill="none" stroke="#555" stroke-width="0.6"/><circle cx="259.1" cy="415.6" r="4.2" fill="none" stroke="#555" stroke-width="0.6"/><circle cx="263.7" cy="364.3" r="3.7" fill="none" stroke="#555" stroke-width="0.6"/><circle cx="253.7" cy="377.7" r="3.1" fill="none" stroke="#555" stroke-width="0.6"/><circle cx="262.5" cy="414.4" r="3.7" fill="none" stroke="#555" stroke-width="0.6"/><circle cx="250.8" cy="382.7" r="3.3" fill="none" stroke="#555" stroke-width="0.6"/><circle cx="259.6" cy="419.5" r="3.7" fill="none" stroke="#555" stroke-width="0.6"/><circle cx="259.4" cy="364.5" r="3.1" fill="none" stroke="#555" stroke-width="0.6"/><circle cx="266.0" cy="404.6" r="4.3" fill="none" stroke="#555" stroke-width="0.6"/><circle cx="262.0" cy="371.6" r="4.1" fill="none" stroke="#555" stroke-width="0.6"/><circle cx="252.3" cy="415.6" r="2.7" fill="none" stroke="#555" stroke-width="0.6"/><circle cx="258.7" cy="362.3" r="3.3" fill="none" stroke="#555" stroke-width="0.6"/><circle cx="252.5" cy="395.6" r="3.1" fill="none" stroke="#555" stroke-width="0.6"/><circle cx="260.4" cy="410.9" r="2.6" fill="none" stroke="#555" stroke-width="0.6"/><circle cx="257.4" cy="406.0" r="3.5" fill="none" stroke="#555" stroke-width="0.6"/></g>
<ellipse cx="259" cy="396" rx="12" ry="22" fill="#383838" filter="url(#bl3)"/>
<ellipse cx="258.5" cy="394" rx="3.5" ry="13" fill="#080808" filter="url(#bl1)"/>
<ellipse cx="268" cy="426" rx="6" ry="5" fill="#c8c8c8" filter="url(#bl2)"/>
<circle cx="280.9" cy="440.1" r="0.4" fill="#aaa" opacity="0.44"/><circle cx="267.1" cy="420.2" r="0.7" fill="#aaa" opacity="0.55"/><circle cx="240.7" cy="408.0" r="0.7" fill="#aaa" opacity="0.48"/><circle cx="220.5" cy="388.0" r="0.8" fill="#aaa" opacity="0.90"/><circle cx="280.2" cy="402.2" r="0.6" fill="#aaa" opacity="0.53"/><circle cx="175.1" cy="353.6" r="0.6" fill="#aaa" opacity="0.56"/><circle cx="214.7" cy="434.8" r="0.7" fill="#aaa" opacity="0.68"/><circle cx="198.2" cy="353.2" r="0.6" fill="#aaa" opacity="0.47"/><circle cx="229.7" cy="444.9" r="0.7" fill="#aaa" opacity="0.49"/><circle cx="273.8" cy="425.9" r="0.8" fill="#aaa" opacity="0.85"/><circle cx="258.7" cy="425.2" r="0.6" fill="#aaa" opacity="0.89"/><circle cx="281.6" cy="366.2" r="0.8" fill="#aaa" opacity="0.76"/><circle cx="224.1" cy="400.9" r="0.6" fill="#aaa" opacity="0.86"/><circle cx="228.6" cy="429.2" r="0.6" fill="#aaa" opacity="0.84"/><circle cx="274.5" cy="394.3" r="0.7" fill="#aaa" opacity="0.86"/><circle cx="254.2" cy="396.7" r="0.5" fill="#aaa" opacity="0.56"/><circle cx="251.5" cy="366.6" r="0.9" fill="#aaa" opacity="0.53"/><circle cx="275.8" cy="380.1" r="0.9" fill="#aaa" opacity="0.75"/><circle cx="229.0" cy="399.7" r="0.7" fill="#aaa" opacity="0.69"/><circle cx="206.9" cy="370.5" r="0.7" fill="#aaa" opacity="0.87"/><circle cx="242.7" cy="358.1" r="0.8" fill="#aaa" opacity="0.76"/><circle cx="275.4" cy="369.0" r="0.8" fill="#aaa" opacity="0.43"/><circle cx="246.1" cy="376.7" r="0.5" fill="#aaa" opacity="0.84"/><circle cx="183.2" cy="400.1" r="0.8" fill="#aaa" opacity="0.52"/><circle cx="195.2" cy="433.8" r="0.6" fill="#aaa" opacity="0.76"/>
<path d="M224.6,394.3 L220,401.4" stroke="#000" stroke-width="2" marker-end="url(#dah)"/>
<path d="M265,433.5 L256.5,438.6" stroke="#000" stroke-width="2" marker-end="url(#dah)"/>
<text x="176.8" y="430.6" font-size="8.8" fill="#1a1a1a" textLength="27.4" lengthAdjust="spacingAndGlyphs">200μm</text>
<path d="M181.7,438.6 L200.2,438.6 M181.7,435.6 L181.7,441.6 M200.2,435.6 L200.2,441.6" stroke="#1a1a1a" stroke-width="1.3"/>
</g>
<rect x="170.5" y="350" width="116.0" height="96" fill="none" stroke="#555" stroke-width="1.1"/>
<clipPath id="dclip20"><rect x="289.5" y="350" width="116.0" height="96"/></clipPath>
<g clip-path="url(#dclip20)">
<rect x="289.5" y="350" width="116.0" height="96" fill="#fbfbfb"/>
<ellipse cx="321" cy="361" rx="11" ry="5" fill="#c4c4c4" filter="url(#bl2)"/>
<circle cx="316.8" cy="361.0" r="0.6" fill="#777" opacity="0.70"/><circle cx="324.5" cy="355.7" r="0.4" fill="#777" opacity="0.82"/><circle cx="317.2" cy="357.6" r="1.0" fill="#777" opacity="0.64"/><circle cx="328.7" cy="360.2" r="0.8" fill="#777" opacity="0.48"/><circle cx="324.7" cy="364.5" r="0.7" fill="#777" opacity="0.77"/><circle cx="325.4" cy="355.7" r="0.9" fill="#777" opacity="0.70"/><circle cx="318.0" cy="355.3" r="0.9" fill="#777" opacity="0.64"/><circle cx="326.4" cy="364.7" r="0.8" fill="#777" opacity="0.86"/><circle cx="319.9" cy="363.8" r="0.7" fill="#777" opacity="0.87"/><circle cx="329.6" cy="356.1" r="0.5" fill="#777" opacity="0.51"/><circle cx="331.3" cy="359.8" r="0.8" fill="#777" opacity="0.55"/><circle cx="322.1" cy="359.2" r="0.6" fill="#777" opacity="0.69"/><circle cx="323.7" cy="364.9" r="0.8" fill="#777" opacity="0.86"/><circle cx="329.1" cy="365.9" r="0.8" fill="#777" opacity="0.48"/>
<circle cx="303.7" cy="365.9" r="6" fill="#d8d8d8" stroke="#555" stroke-width="0.9"/>
<circle cx="303.5" cy="367" r="1.6" fill="#777"/>
<circle cx="330.5" cy="378" r="5" fill="#e0e0e0" stroke="#666" stroke-width="0.8"/>
<circle cx="331" cy="378.5" r="1.2" fill="#888"/>
<ellipse cx="364" cy="374" rx="8" ry="7" fill="#dadada" filter="url(#bl3)"/>
<ellipse cx="330" cy="404" rx="4" ry="8" fill="#d8d8d8" filter="url(#bl3)"/>
<ellipse cx="351" cy="420" rx="6" ry="5" fill="#dedede" filter="url(#bl3)"/>
<circle cx="396" cy="404" r="7" fill="#808080" stroke="#444" stroke-width="1.0"/>
<circle cx="385" cy="396" r="9" fill="#4a4a4a" stroke="#333" stroke-width="1.0"/>
<ellipse cx="386" cy="396" rx="6" ry="5" fill="#111" filter="url(#bl1)"/>
<circle cx="325" cy="432" r="11" fill="#d0d0d0" stroke="#444" stroke-width="1.3"/>
<ellipse cx="325" cy="433" rx="6" ry="6" fill="#a8a8a8" filter="url(#bl2)"/>
<circle cx="317.1" cy="360.7" r="0.6" fill="#aaa" opacity="0.48"/><circle cx="297.6" cy="388.7" r="1.0" fill="#aaa" opacity="0.80"/><circle cx="378.0" cy="371.9" r="0.7" fill="#aaa" opacity="0.54"/><circle cx="309.9" cy="361.0" r="0.5" fill="#aaa" opacity="0.86"/><circle cx="385.3" cy="426.8" r="0.9" fill="#aaa" opacity="0.50"/><circle cx="325.6" cy="409.9" r="0.8" fill="#aaa" opacity="0.83"/><circle cx="391.2" cy="359.2" r="0.8" fill="#aaa" opacity="0.74"/><circle cx="348.2" cy="367.7" r="0.7" fill="#aaa" opacity="0.44"/><circle cx="397.5" cy="432.4" r="0.7" fill="#aaa" opacity="0.55"/><circle cx="394.5" cy="404.8" r="0.9" fill="#aaa" opacity="0.82"/><circle cx="348.5" cy="389.9" r="0.8" fill="#aaa" opacity="0.62"/><circle cx="308.6" cy="379.7" r="0.9" fill="#aaa" opacity="0.42"/><circle cx="295.3" cy="409.9" r="0.6" fill="#aaa" opacity="0.67"/><circle cx="344.2" cy="383.2" r="1.0" fill="#aaa" opacity="0.50"/><circle cx="337.5" cy="370.1" r="0.8" fill="#aaa" opacity="0.54"/><circle cx="330.9" cy="421.2" r="0.6" fill="#aaa" opacity="0.68"/><circle cx="394.0" cy="360.5" r="0.4" fill="#aaa" opacity="0.51"/><circle cx="378.0" cy="408.9" r="0.5" fill="#aaa" opacity="0.57"/><circle cx="310.4" cy="394.1" r="0.4" fill="#aaa" opacity="0.75"/><circle cx="393.0" cy="440.7" r="0.8" fill="#aaa" opacity="0.88"/><circle cx="292.1" cy="378.2" r="1.0" fill="#aaa" opacity="0.79"/><circle cx="337.2" cy="439.7" r="0.8" fill="#aaa" opacity="0.81"/><circle cx="323.7" cy="369.0" r="0.7" fill="#aaa" opacity="0.47"/><circle cx="333.9" cy="441.4" r="0.6" fill="#aaa" opacity="0.40"/><circle cx="295.2" cy="366.9" r="0.9" fill="#aaa" opacity="0.58"/><circle cx="323.4" cy="360.1" r="1.0" fill="#aaa" opacity="0.61"/><circle cx="313.9" cy="356.6" r="0.4" fill="#aaa" opacity="0.48"/><circle cx="367.8" cy="365.1" r="0.4" fill="#aaa" opacity="0.65"/><circle cx="318.6" cy="444.8" r="0.5" fill="#aaa" opacity="0.66"/><circle cx="379.0" cy="389.5" r="1.0" fill="#aaa" opacity="0.64"/><circle cx="317.8" cy="389.6" r="0.4" fill="#aaa" opacity="0.61"/><circle cx="318.6" cy="434.6" r="0.9" fill="#aaa" opacity="0.65"/><circle cx="293.6" cy="374.9" r="0.5" fill="#aaa" opacity="0.50"/><circle cx="316.6" cy="432.8" r="0.5" fill="#aaa" opacity="0.43"/><circle cx="396.7" cy="404.1" r="1.0" fill="#aaa" opacity="0.60"/><circle cx="393.6" cy="412.5" r="0.9" fill="#aaa" opacity="0.77"/><circle cx="346.8" cy="359.7" r="0.5" fill="#aaa" opacity="0.84"/><circle cx="393.5" cy="437.9" r="0.6" fill="#aaa" opacity="0.73"/><circle cx="381.9" cy="411.4" r="0.9" fill="#aaa" opacity="0.66"/><circle cx="365.3" cy="415.5" r="0.6" fill="#aaa" opacity="0.86"/><circle cx="400.0" cy="358.0" r="1.0" fill="#aaa" opacity="0.88"/><circle cx="366.9" cy="355.2" r="0.9" fill="#aaa" opacity="0.46"/><circle cx="401.4" cy="413.7" r="0.4" fill="#aaa" opacity="0.48"/><circle cx="363.0" cy="404.5" r="0.8" fill="#aaa" opacity="0.86"/><circle cx="315.1" cy="351.3" r="1.0" fill="#aaa" opacity="0.41"/><circle cx="390.8" cy="361.9" r="0.9" fill="#aaa" opacity="0.79"/><circle cx="391.0" cy="402.8" r="0.9" fill="#aaa" opacity="0.50"/><circle cx="367.2" cy="382.1" r="0.9" fill="#aaa" opacity="0.79"/><circle cx="344.2" cy="400.5" r="0.4" fill="#aaa" opacity="0.42"/><circle cx="358.4" cy="397.0" r="0.9" fill="#aaa" opacity="0.70"/>
<text x="295.8" y="430.6" font-size="8.8" fill="#1a1a1a" textLength="27.4" lengthAdjust="spacingAndGlyphs">200μm</text>
<path d="M300.7,438.6 L319.2,438.6 M300.7,435.6 L300.7,441.6 M319.2,435.6 L319.2,441.6" stroke="#1a1a1a" stroke-width="1.3"/>
</g>
<rect x="289.5" y="350" width="116.0" height="96" fill="none" stroke="#555" stroke-width="1.1"/>
<clipPath id="dclip30"><rect x="409" y="350" width="116.5" height="96"/></clipPath>
<g clip-path="url(#dclip30)">
<rect x="409" y="350" width="116.5" height="96" fill="#fbfbfb"/>
<circle cx="459.4" cy="343.5" r="13.5" fill="#ececec" stroke="#555" stroke-width="1.2"/>
<circle cx="416.8" cy="361" r="4" fill="#666" stroke="#444" stroke-width="0.8"/>
<circle cx="500.4" cy="362.2" r="6" fill="#b8b8b8" stroke="#555" stroke-width="1.4"/>
<circle cx="500.4" cy="362.2" r="3.5" fill="none" stroke="#888" stroke-width="0.6"/>
<circle cx="497" cy="390" r="6.5" fill="#999" stroke="#444" stroke-width="1.5"/>
<circle cx="497" cy="389" r="2" fill="#555"/>
<circle cx="515" cy="392.7" r="5" fill="#f4f4f4" stroke="#888" stroke-width="0.7"/>
<circle cx="474.6" cy="431.3" r="7" fill="#e4e4e4" stroke="#333" stroke-width="1.3"/>
<circle cx="475.5" cy="432.5" r="3.5" fill="none" stroke="#999" stroke-width="0.6"/>
<ellipse cx="447" cy="370" rx="3" ry="4" fill="#aaa" filter="url(#bl1)"/>
<circle cx="481.6" cy="420.7" r="0.9" fill="#999" opacity="0.87"/><circle cx="495.1" cy="437.7" r="0.4" fill="#999" opacity="0.63"/><circle cx="518.5" cy="412.0" r="0.9" fill="#999" opacity="0.46"/><circle cx="463.9" cy="374.2" r="0.7" fill="#999" opacity="0.69"/><circle cx="411.5" cy="371.4" r="0.6" fill="#999" opacity="0.86"/><circle cx="498.1" cy="366.0" r="0.9" fill="#999" opacity="0.47"/><circle cx="481.0" cy="362.9" r="0.4" fill="#999" opacity="0.84"/><circle cx="434.1" cy="371.3" r="1.0" fill="#999" opacity="0.84"/><circle cx="443.3" cy="441.4" r="0.7" fill="#999" opacity="0.74"/><circle cx="433.5" cy="439.5" r="0.8" fill="#999" opacity="0.88"/><circle cx="512.8" cy="379.1" r="0.6" fill="#999" opacity="0.48"/><circle cx="426.8" cy="357.1" r="0.6" fill="#999" opacity="0.70"/><circle cx="410.4" cy="414.7" r="0.6" fill="#999" opacity="0.55"/><circle cx="504.1" cy="396.2" r="0.6" fill="#999" opacity="0.64"/><circle cx="491.0" cy="356.4" r="1.0" fill="#999" opacity="0.41"/><circle cx="496.2" cy="430.4" r="0.4" fill="#999" opacity="0.79"/><circle cx="452.1" cy="405.4" r="0.4" fill="#999" opacity="0.42"/><circle cx="430.8" cy="440.8" r="0.5" fill="#999" opacity="0.78"/><circle cx="516.9" cy="439.6" r="0.6" fill="#999" opacity="0.58"/><circle cx="470.3" cy="423.9" r="0.5" fill="#999" opacity="0.77"/><circle cx="501.7" cy="431.8" r="0.4" fill="#999" opacity="0.87"/><circle cx="420.5" cy="383.0" r="0.8" fill="#999" opacity="0.86"/><circle cx="449.1" cy="437.9" r="0.7" fill="#999" opacity="0.56"/><circle cx="446.4" cy="367.7" r="0.4" fill="#999" opacity="0.47"/><circle cx="489.3" cy="444.7" r="0.5" fill="#999" opacity="0.42"/><circle cx="523.5" cy="401.2" r="0.6" fill="#999" opacity="0.52"/><circle cx="478.3" cy="428.7" r="0.7" fill="#999" opacity="0.61"/><circle cx="416.4" cy="437.1" r="0.4" fill="#999" opacity="0.65"/><circle cx="506.4" cy="363.3" r="0.8" fill="#999" opacity="0.87"/><circle cx="482.5" cy="425.1" r="0.5" fill="#999" opacity="0.62"/><circle cx="427.2" cy="430.4" r="0.6" fill="#999" opacity="0.63"/><circle cx="524.9" cy="431.1" r="1.0" fill="#999" opacity="0.63"/><circle cx="466.1" cy="419.6" r="0.7" fill="#999" opacity="0.55"/><circle cx="456.4" cy="364.8" r="0.6" fill="#999" opacity="0.89"/><circle cx="520.4" cy="409.9" r="0.7" fill="#999" opacity="0.57"/><circle cx="420.3" cy="376.6" r="0.9" fill="#999" opacity="0.83"/><circle cx="451.6" cy="424.9" r="0.9" fill="#999" opacity="0.75"/><circle cx="486.4" cy="422.4" r="0.6" fill="#999" opacity="0.75"/><circle cx="442.3" cy="396.7" r="0.9" fill="#999" opacity="0.75"/><circle cx="443.8" cy="439.9" r="0.8" fill="#999" opacity="0.69"/><circle cx="411.3" cy="402.4" r="0.6" fill="#999" opacity="0.74"/><circle cx="463.2" cy="427.8" r="0.8" fill="#999" opacity="0.80"/><circle cx="450.0" cy="411.5" r="0.8" fill="#999" opacity="0.81"/><circle cx="450.3" cy="430.2" r="0.9" fill="#999" opacity="0.74"/><circle cx="522.3" cy="440.9" r="0.7" fill="#999" opacity="0.66"/><circle cx="429.1" cy="429.6" r="1.0" fill="#999" opacity="0.64"/><circle cx="489.5" cy="418.7" r="0.8" fill="#999" opacity="0.49"/><circle cx="499.7" cy="405.6" r="0.8" fill="#999" opacity="0.61"/><circle cx="481.7" cy="423.8" r="0.8" fill="#999" opacity="0.76"/><circle cx="413.2" cy="366.0" r="0.7" fill="#999" opacity="0.73"/><circle cx="435.2" cy="415.5" r="0.8" fill="#999" opacity="0.42"/><circle cx="464.2" cy="372.3" r="0.4" fill="#999" opacity="0.47"/><circle cx="446.5" cy="368.1" r="0.5" fill="#999" opacity="0.42"/><circle cx="463.5" cy="386.7" r="0.8" fill="#999" opacity="0.70"/><circle cx="437.4" cy="435.9" r="0.4" fill="#999" opacity="0.60"/><circle cx="442.0" cy="389.5" r="0.5" fill="#999" opacity="0.82"/><circle cx="453.0" cy="354.4" r="0.8" fill="#999" opacity="0.45"/><circle cx="472.7" cy="382.9" r="0.7" fill="#999" opacity="0.88"/><circle cx="504.1" cy="390.4" r="0.9" fill="#999" opacity="0.72"/><circle cx="452.5" cy="364.4" r="0.8" fill="#999" opacity="0.68"/><circle cx="520.1" cy="442.0" r="0.8" fill="#999" opacity="0.58"/><circle cx="512.7" cy="351.1" r="0.5" fill="#999" opacity="0.68"/><circle cx="480.7" cy="364.2" r="0.8" fill="#999" opacity="0.85"/><circle cx="453.2" cy="391.6" r="0.5" fill="#999" opacity="0.55"/><circle cx="521.8" cy="386.7" r="1.0" fill="#999" opacity="0.86"/><circle cx="478.5" cy="375.4" r="1.0" fill="#999" opacity="0.65"/><circle cx="457.8" cy="381.0" r="1.0" fill="#999" opacity="0.65"/><circle cx="442.9" cy="395.8" r="0.5" fill="#999" opacity="0.71"/><circle cx="461.0" cy="378.6" r="0.9" fill="#999" opacity="0.81"/><circle cx="411.5" cy="401.1" r="0.6" fill="#999" opacity="0.87"/><circle cx="499.9" cy="374.1" r="0.6" fill="#999" opacity="0.48"/><circle cx="523.7" cy="378.6" r="0.8" fill="#999" opacity="0.64"/><circle cx="484.2" cy="407.8" r="0.8" fill="#999" opacity="0.46"/><circle cx="497.4" cy="379.3" r="0.7" fill="#999" opacity="0.57"/><circle cx="444.1" cy="400.8" r="0.7" fill="#999" opacity="0.58"/><circle cx="495.7" cy="406.5" r="0.4" fill="#999" opacity="0.53"/><circle cx="462.4" cy="437.2" r="0.9" fill="#999" opacity="0.67"/><circle cx="411.7" cy="424.2" r="0.7" fill="#999" opacity="0.69"/><circle cx="491.4" cy="410.4" r="0.7" fill="#999" opacity="0.86"/><circle cx="454.3" cy="387.8" r="0.9" fill="#999" opacity="0.50"/><circle cx="444.1" cy="429.0" r="0.4" fill="#999" opacity="0.82"/><circle cx="489.9" cy="391.7" r="0.6" fill="#999" opacity="0.79"/><circle cx="514.7" cy="364.4" r="0.7" fill="#999" opacity="0.67"/><circle cx="467.2" cy="382.1" r="0.5" fill="#999" opacity="0.69"/><circle cx="503.4" cy="357.4" r="0.5" fill="#999" opacity="0.81"/><circle cx="501.1" cy="413.4" r="0.4" fill="#999" opacity="0.76"/><circle cx="522.5" cy="444.8" r="0.8" fill="#999" opacity="0.42"/><circle cx="506.8" cy="371.6" r="0.8" fill="#999" opacity="0.88"/><circle cx="491.9" cy="363.7" r="0.6" fill="#999" opacity="0.86"/><circle cx="427.2" cy="408.4" r="0.6" fill="#999" opacity="0.48"/>
<text x="415.3" y="430.6" font-size="8.8" fill="#1a1a1a" textLength="27.4" lengthAdjust="spacingAndGlyphs">200μm</text>
<path d="M420.2,438.6 L438.7,438.6 M420.2,435.6 L420.2,441.6 M438.7,435.6 L438.7,441.6" stroke="#1a1a1a" stroke-width="1.3"/>
</g>
<rect x="409" y="350" width="116.5" height="96" fill="none" stroke="#555" stroke-width="1.1"/>
<clipPath id="dclip01"><rect x="51" y="448.5" width="117" height="96.0"/></clipPath>
<g clip-path="url(#dclip01)">
<rect x="51" y="448.5" width="117" height="96.0" fill="#fbfbfb"/>
<path d="M116.8,485.2 Q117.3,494.3 111.1,496.3 Q106.3,501.8 104.0,494.6 Q98.1,494.5 100.1,486.2 Q97.9,480.9 103.0,478.0 Q104.8,469.8 109.8,471.8 Q115.0,467.3 116.1,474.6 Q120.8,477.8 116.8,485.2 Z" fill="#9a9a9a" stroke="#666" stroke-width="0.7" filter="url(#gtex)"/>
<circle cx="105" cy="459" r="3.5" fill="#e6e6e6" stroke="#555" stroke-width="0.8"/>
<circle cx="109" cy="465.5" r="3.5" fill="#e6e6e6" stroke="#555" stroke-width="0.8"/>
<circle cx="104" cy="471" r="3.3" fill="#e6e6e6" stroke="#555" stroke-width="0.8"/>
<circle cx="102" cy="497" r="3.5" fill="#e6e6e6" stroke="#555" stroke-width="0.8"/>
<circle cx="98" cy="491" r="3" fill="#e6e6e6" stroke="#555" stroke-width="0.8"/>
<ellipse cx="111" cy="486" rx="6" ry="9" fill="#585858" filter="url(#bl2)" transform="rotate(15,111,486)"/>
<path d="M106.7,518.8 Q112.1,522.6 103.5,522.6 Q104.8,532.6 94.2,532.0 Q93.0,539.3 87.9,533.6 Q78.4,541.0 72.6,532.1 Q65.2,535.8 69.0,528.8 Q57.9,523.6 64.9,513.7 Q60.5,507.2 70.5,506.3 Q68.2,496.0 77.1,496.9 Q82.2,489.1 89.0,497.2 Q93.7,492.1 94.0,500.0 Q103.2,497.4 102.5,505.9 Q112.9,510.4 106.7,518.8 Z" fill="#9c9c9c" stroke="#666" stroke-width="0.7" filter="url(#gtex)"/>
<g opacity="0.55"><circle cx="70.8" cy="511.5" r="4.0" fill="none" stroke="#555" stroke-width="0.6"/><circle cx="93.5" cy="508.0" r="4.4" fill="none" stroke="#555" stroke-width="0.6"/><circle cx="71.4" cy="509.9" r="4.0" fill="none" stroke="#555" stroke-width="0.6"/><circle cx="96.1" cy="511.5" r="3.2" fill="none" stroke="#555" stroke-width="0.6"/><circle cx="83.0" cy="502.6" r="4.0" fill="none" stroke="#555" stroke-width="0.6"/><circle cx="74.4" cy="528.6" r="2.5" fill="none" stroke="#555" stroke-width="0.6"/><circle cx="83.8" cy="504.5" r="2.6" fill="none" stroke="#555" stroke-width="0.6"/><circle cx="82.4" cy="509.3" r="3.0" fill="none" stroke="#555" stroke-width="0.6"/><circle cx="81.6" cy="524.1" r="2.8" fill="none" stroke="#555" stroke-width="0.6"/><circle cx="101.0" cy="523.1" r="2.7" fill="none" stroke="#555" stroke-width="0.6"/><circle cx="90.4" cy="522.7" r="4.3" fill="none" stroke="#555" stroke-width="0.6"/><circle cx="70.1" cy="511.5" r="4.4" fill="none" stroke="#555" stroke-width="0.6"/><circle cx="73.5" cy="516.4" r="3.3" fill="none" stroke="#555" stroke-width="0.6"/><circle cx="84.7" cy="529.7" r="4.4" fill="none" stroke="#555" stroke-width="0.6"/><circle cx="70.0" cy="515.7" r="4.3" fill="none" stroke="#555" stroke-width="0.6"/><circle cx="93.4" cy="503.4" r="3.6" fill="none" stroke="#555" stroke-width="0.6"/></g>
<ellipse cx="90" cy="518" rx="14" ry="13" fill="#4e4e4e" filter="url(#bl3)"/>
<path d="M151.0,518.1 Q154.7,525.8 145.0,528.0 Q144.0,536.5 136.0,533.8 Q132.1,539.4 129.0,532.9 Q118.9,536.0 117.3,527.1 Q108.4,523.8 114.2,516.9 Q110.5,509.8 120.0,508.2 Q118.1,499.9 125.0,501.6 Q130.0,496.1 135.6,503.8 Q144.7,499.5 147.4,507.4 Q156.4,510.5 151.0,518.1 Z" fill="#9c9c9c" stroke="#666" stroke-width="0.7" filter="url(#gtex)"/>
<g opacity="0.55"><circle cx="125.9" cy="530.2" r="4.4" fill="none" stroke="#555" stroke-width="0.6"/><circle cx="144.8" cy="511.8" r="4.3" fill="none" stroke="#555" stroke-width="0.6"/><circle cx="145.4" cy="518.0" r="3.0" fill="none" stroke="#555" stroke-width="0.6"/><circle cx="131.7" cy="508.0" r="3.6" fill="none" stroke="#555" stroke-width="0.6"/><circle cx="121.4" cy="515.0" r="4.2" fill="none" stroke="#555" stroke-width="0.6"/><circle cx="142.9" cy="516.9" r="4.1" fill="none" stroke="#555" stroke-width="0.6"/><circle cx="141.0" cy="511.8" r="2.7" fill="none" stroke="#555" stroke-width="0.6"/><circle cx="119.6" cy="518.2" r="3.5" fill="none" stroke="#555" stroke-width="0.6"/><circle cx="138.2" cy="529.1" r="3.1" fill="none" stroke="#555" stroke-width="0.6"/><circle cx="139.1" cy="513.0" r="3.7" fill="none" stroke="#555" stroke-width="0.6"/><circle cx="121.8" cy="527.2" r="2.8" fill="none" stroke="#555" stroke-width="0.6"/><circle cx="140.8" cy="511.2" r="3.2" fill="none" stroke="#555" stroke-width="0.6"/></g>
<path d="M160.3,511.5 Q162.8,518.3 155.9,519.8 Q152.7,525.7 147.6,521.4 Q140.6,522.7 140.2,515.7 Q134.9,511.2 140.3,506.7 Q141.6,499.0 149.2,500.8 Q153.9,496.8 156.2,502.1 Q163.3,504.5 160.3,511.5 Z" fill="#9c9c9c" stroke="#666" stroke-width="0.7" filter="url(#gtex)"/>
<circle cx="143" cy="497" r="3.5" fill="#e2e2e2" stroke="#555" stroke-width="0.8"/>
<circle cx="160" cy="507" r="4" fill="#e2e2e2" stroke="#555" stroke-width="0.8"/>
<circle cx="157" cy="529" r="3.5" fill="#e2e2e2" stroke="#555" stroke-width="0.8"/>
<circle cx="62" cy="505" r="3.5" fill="#e2e2e2" stroke="#555" stroke-width="0.8"/>
<circle cx="60" cy="526" r="3.5" fill="#e2e2e2" stroke="#555" stroke-width="0.8"/>
<ellipse cx="126" cy="519" rx="9" ry="11" fill="#585858" filter="url(#bl3)"/>
<ellipse cx="145" cy="512" rx="7" ry="7" fill="#585858" filter="url(#bl3)"/>
<circle cx="143.2" cy="527.1" r="0.6" fill="#aaa" opacity="0.53"/><circle cx="52.1" cy="512.0" r="0.6" fill="#aaa" opacity="0.78"/><circle cx="94.9" cy="522.2" r="0.5" fill="#aaa" opacity="0.80"/><circle cx="135.9" cy="488.3" r="0.7" fill="#aaa" opacity="0.74"/><circle cx="74.2" cy="501.6" r="0.8" fill="#aaa" opacity="0.53"/><circle cx="144.4" cy="514.1" r="0.8" fill="#aaa" opacity="0.57"/><circle cx="62.7" cy="525.0" r="0.8" fill="#aaa" opacity="0.62"/><circle cx="62.8" cy="467.7" r="0.7" fill="#aaa" opacity="0.55"/><circle cx="161.4" cy="504.9" r="0.5" fill="#aaa" opacity="0.73"/><circle cx="93.4" cy="537.6" r="0.9" fill="#aaa" opacity="0.66"/><circle cx="126.1" cy="515.3" r="0.8" fill="#aaa" opacity="0.89"/><circle cx="55.3" cy="483.3" r="0.7" fill="#aaa" opacity="0.55"/><circle cx="119.8" cy="457.5" r="0.8" fill="#aaa" opacity="0.66"/><circle cx="65.4" cy="512.0" r="0.6" fill="#aaa" opacity="0.50"/><circle cx="107.6" cy="462.1" r="0.5" fill="#aaa" opacity="0.83"/><circle cx="132.3" cy="450.2" r="0.8" fill="#aaa" opacity="0.41"/><circle cx="90.3" cy="534.9" r="0.7" fill="#aaa" opacity="0.55"/><circle cx="95.4" cy="486.0" r="0.5" fill="#aaa" opacity="0.90"/><circle cx="58.2" cy="489.2" r="0.8" fill="#aaa" opacity="0.60"/><circle cx="164.8" cy="472.3" r="0.9" fill="#aaa" opacity="0.85"/>
<path d="M136.2,466.3 L125.5,466.3" stroke="#000" stroke-width="2" marker-end="url(#dah)"/>
<path d="M155.2,479.8 L151,488.6" stroke="#000" stroke-width="2" marker-end="url(#dah)"/>
<text x="57.3" y="529.1" font-size="8.8" fill="#1a1a1a" textLength="27.4" lengthAdjust="spacingAndGlyphs">200μm</text>
<path d="M62.2,537.1 L80.7,537.1 M62.2,534.1 L62.2,540.1 M80.7,534.1 L80.7,540.1" stroke="#1a1a1a" stroke-width="1.3"/>
</g>
<rect x="51" y="448.5" width="117" height="96.0" fill="none" stroke="#555" stroke-width="1.1"/>
<clipPath id="dclip11"><rect x="170.5" y="448.5" width="116.0" height="96.0"/></clipPath>
<g clip-path="url(#dclip11)">
<rect x="170.5" y="448.5" width="116.0" height="96.0" fill="#fbfbfb"/>
<ellipse cx="181" cy="487.5" rx="17" ry="22" fill="#9a9a9a" filter="url(#bl3)"/>
<path d="M193.6,484.5 Q199.1,494.2 191.9,500.0 Q192.3,508.5 185.9,504.5 Q181.2,513.6 175.5,506.2 Q168.1,508.0 168.3,497.2 Q162.1,492.9 167.0,485.5 Q161.8,478.1 167.4,475.2 Q167.6,464.6 175.3,467.6 Q178.6,460.7 182.3,468.9 Q189.4,466.4 190.2,476.7 Q196.7,477.8 193.6,484.5 Z" fill="#6a6a6a" stroke="#555" stroke-width="0.7" filter="url(#gtex)"/>
<g opacity="0.55"><circle cx="171.5" cy="494.6" r="4.2" fill="none" stroke="#444" stroke-width="0.6"/><circle cx="183.4" cy="496.4" r="2.6" fill="none" stroke="#444" stroke-width="0.6"/><circle cx="183.8" cy="491.8" r="2.8" fill="none" stroke="#444" stroke-width="0.6"/><circle cx="167.1" cy="485.5" r="3.9" fill="none" stroke="#444" stroke-width="0.6"/><circle cx="173.4" cy="495.8" r="3.9" fill="none" stroke="#444" stroke-width="0.6"/><circle cx="177.2" cy="494.4" r="4.2" fill="none" stroke="#444" stroke-width="0.6"/><circle cx="175.2" cy="481.0" r="2.6" fill="none" stroke="#444" stroke-width="0.6"/><circle cx="190.6" cy="496.9" r="2.7" fill="none" stroke="#444" stroke-width="0.6"/><circle cx="170.9" cy="474.4" r="2.6" fill="none" stroke="#444" stroke-width="0.6"/><circle cx="172.7" cy="495.8" r="4.3" fill="none" stroke="#444" stroke-width="0.6"/></g>
<ellipse cx="177" cy="490" rx="10" ry="14" fill="#1e1e1e" filter="url(#bl3)"/>
<path d="M218.0,519.6 Q221.8,527.0 213.3,530.1 Q212.3,538.0 205.1,535.5 Q198.9,541.1 194.9,534.4 Q187.6,534.4 189.9,526.7 Q181.5,521.0 187.4,514.1 Q187.5,506.3 196.7,508.1 Q200.4,501.9 205.7,507.1 Q213.0,504.7 214.0,512.4 Q221.4,513.7 218.0,519.6 Z" fill="#858585" stroke="#555" stroke-width="0.7" filter="url(#gtex)"/>
<g opacity="0.55"><circle cx="201.6" cy="530.7" r="2.7" fill="none" stroke="#444" stroke-width="0.6"/><circle cx="199.6" cy="526.1" r="2.5" fill="none" stroke="#444" stroke-width="0.6"/><circle cx="201.5" cy="527.4" r="3.1" fill="none" stroke="#444" stroke-width="0.6"/><circle cx="202.8" cy="515.5" r="3.7" fill="none" stroke="#444" stroke-width="0.6"/><circle cx="211.4" cy="529.9" r="4.0" fill="none" stroke="#444" stroke-width="0.6"/><circle cx="206.2" cy="532.8" r="3.9" fill="none" stroke="#444" stroke-width="0.6"/><circle cx="211.8" cy="525.2" r="3.9" fill="none" stroke="#444" stroke-width="0.6"/><circle cx="209.7" cy="517.7" r="3.0" fill="none" stroke="#444" stroke-width="0.6"/><circle cx="205.2" cy="508.4" r="2.7" fill="none" stroke="#444" stroke-width="0.6"/><circle cx="213.5" cy="527.2" r="3.1" fill="none" stroke="#444" stroke-width="0.6"/></g>
<ellipse cx="202" cy="523" rx="10" ry="10" fill="#1e1e1e" filter="url(#bl3)"/>
<path d="M276.8,483.6 Q281.9,492.4 271.5,494.4 Q273.7,505.0 264.6,502.7 Q266.1,512.6 260.6,506.5 Q253.5,515.5 246.3,504.9 Q239.3,509.4 239.1,499.0 Q228.1,501.7 229.0,492.1 Q220.4,490.0 227.8,483.0 Q219.9,475.6 228.9,470.3 Q225.6,458.9 236.4,458.8 Q235.9,446.9 244.0,451.7 Q250.4,443.5 256.8,454.8 Q263.5,446.7 264.8,455.6 Q274.1,454.2 271.4,466.0 Q282.9,472.2 276.8,483.6 Z" fill="#a0a0a0" stroke="#666" stroke-width="0.7" filter="url(#gtex)"/>
<g opacity="0.55"><circle cx="247.5" cy="468.7" r="4.5" fill="none" stroke="#555" stroke-width="0.6"/><circle cx="263.6" cy="459.8" r="4.3" fill="none" stroke="#555" stroke-width="0.6"/><circle cx="241.4" cy="467.0" r="4.3" fill="none" stroke="#555" stroke-width="0.6"/><circle cx="267.3" cy="493.9" r="4.5" fill="none" stroke="#555" stroke-width="0.6"/><circle cx="248.9" cy="497.5" r="4.8" fill="none" stroke="#555" stroke-width="0.6"/><circle cx="230.8" cy="488.8" r="5.4" fill="none" stroke="#555" stroke-width="0.6"/><circle cx="257.8" cy="469.5" r="3.2" fill="none" stroke="#555" stroke-width="0.6"/><circle cx="248.3" cy="497.1" r="4.8" fill="none" stroke="#555" stroke-width="0.6"/><circle cx="260.5" cy="461.8" r="4.6" fill="none" stroke="#555" stroke-width="0.6"/><circle cx="243.3" cy="475.1" r="4.3" fill="none" stroke="#555" stroke-width="0.6"/><circle cx="255.7" cy="498.0" r="3.0" fill="none" stroke="#555" stroke-width="0.6"/><circle cx="239.7" cy="459.3" r="3.2" fill="none" stroke="#555" stroke-width="0.6"/><circle cx="243.7" cy="474.8" r="3.9" fill="none" stroke="#555" stroke-width="0.6"/><circle cx="263.7" cy="500.6" r="4.8" fill="none" stroke="#555" stroke-width="0.6"/><circle cx="262.6" cy="470.9" r="4.8" fill="none" stroke="#555" stroke-width="0.6"/><circle cx="246.5" cy="461.1" r="5.3" fill="none" stroke="#555" stroke-width="0.6"/><circle cx="241.8" cy="468.5" r="4.8" fill="none" stroke="#555" stroke-width="0.6"/><circle cx="238.9" cy="481.8" r="4.5" fill="none" stroke="#555" stroke-width="0.6"/><circle cx="268.0" cy="485.7" r="4.4" fill="none" stroke="#555" stroke-width="0.6"/><circle cx="271.3" cy="480.3" r="3.2" fill="none" stroke="#555" stroke-width="0.6"/><circle cx="243.0" cy="466.1" r="3.1" fill="none" stroke="#555" stroke-width="0.6"/><circle cx="262.4" cy="480.0" r="3.4" fill="none" stroke="#555" stroke-width="0.6"/></g>
<ellipse cx="250" cy="480" rx="17" ry="17" fill="#101010" filter="url(#bl2)"/>
<circle cx="246" cy="511" r="4" fill="#ddd" stroke="#777" stroke-width="0.6"/>
<ellipse cx="282" cy="540" rx="8" ry="6" fill="#bbb" filter="url(#bl3)"/>
<circle cx="208.2" cy="463.3" r="0.7" fill="#aaa" opacity="0.44"/><circle cx="232.6" cy="483.7" r="0.4" fill="#aaa" opacity="0.65"/><circle cx="175.3" cy="490.2" r="0.4" fill="#aaa" opacity="0.45"/><circle cx="219.8" cy="527.6" r="0.5" fill="#aaa" opacity="0.51"/><circle cx="243.2" cy="539.0" r="0.7" fill="#aaa" opacity="0.60"/><circle cx="283.3" cy="453.4" r="0.8" fill="#aaa" opacity="0.54"/><circle cx="187.6" cy="460.2" r="0.6" fill="#aaa" opacity="0.81"/><circle cx="191.8" cy="504.3" r="0.7" fill="#aaa" opacity="0.59"/><circle cx="234.0" cy="455.0" r="0.4" fill="#aaa" opacity="0.50"/><circle cx="249.2" cy="489.6" r="0.6" fill="#aaa" opacity="0.69"/><circle cx="223.1" cy="477.5" r="0.8" fill="#aaa" opacity="0.75"/><circle cx="199.1" cy="503.6" r="0.7" fill="#aaa" opacity="0.84"/><circle cx="254.9" cy="476.4" r="0.9" fill="#aaa" opacity="0.46"/><circle cx="219.1" cy="520.9" r="0.5" fill="#aaa" opacity="0.64"/><circle cx="175.5" cy="512.5" r="0.8" fill="#aaa" opacity="0.69"/>
<path d="M250.2,527.2 L248.9,518.5" stroke="#000" stroke-width="2" marker-end="url(#dah)"/>
<text x="176.8" y="529.1" font-size="8.8" fill="#1a1a1a" textLength="27.4" lengthAdjust="spacingAndGlyphs">200μm</text>
<path d="M181.7,537.1 L200.2,537.1 M181.7,534.1 L181.7,540.1 M200.2,534.1 L200.2,540.1" stroke="#1a1a1a" stroke-width="1.3"/>
</g>
<rect x="170.5" y="448.5" width="116.0" height="96.0" fill="none" stroke="#555" stroke-width="1.1"/>
<clipPath id="dclip21"><rect x="289.5" y="448.5" width="116.0" height="96.0"/></clipPath>
<g clip-path="url(#dclip21)">
<rect x="289.5" y="448.5" width="116.0" height="96.0" fill="#fbfbfb"/>
<path d="M304.4,480.9 C304.6,479.4 307.1,478.0 308.7,477.6 C310.3,477.2 312.2,479.2 314.2,478.7 C316.2,478.2 318.7,475.7 320.7,474.4 C322.7,473.1 324.6,471.5 326.2,471.1 C327.8,470.7 329.6,471.3 330.5,472.2 C331.4,473.1 331.8,474.9 331.6,476.5 C331.4,478.1 329.5,480.0 329.5,482.0 C329.5,484.0 330.2,486.9 331.6,488.5 C333.1,490.1 337.3,490.5 338.2,491.8 C339.1,493.1 338.6,495.3 337.1,496.2 C335.7,497.1 331.9,497.3 329.5,497.3 C327.1,497.3 324.7,496.9 322.9,496.2 C321.1,495.5 320.2,494.0 318.5,492.9 C316.8,491.8 314.7,490.7 312.9,489.6 C311.1,488.5 309.0,487.8 307.6,486.4 C306.2,484.9 304.2,482.4 304.4,480.9 Z" fill="#a2a2a2" stroke="#777" stroke-width="0.6" filter="url(#gtex)"/>
<circle cx="307" cy="480" r="4" fill="#d0d0d0" stroke="#777" stroke-width="0.6"/>
<ellipse cx="322" cy="486" rx="7" ry="6" fill="#5e5e5e" filter="url(#bl2)"/>
<ellipse cx="334" cy="493" rx="4" ry="3" fill="#808080" filter="url(#bl1)"/>
<path d="M341.5,459.1 C342.4,457.3 346.0,456.4 349.1,455.8 C352.2,455.2 356.4,455.8 360.0,455.8 C363.6,455.8 367.3,455.4 370.9,455.8 C374.5,456.2 378.7,456.7 381.8,458.0 C384.9,459.3 388.0,461.5 389.5,463.5 C391.0,465.5 391.2,468.0 390.6,470.0 C390.1,472.0 388.0,474.2 386.2,475.5 C384.4,476.8 382.0,477.4 379.6,477.6 C377.2,477.8 374.4,477.2 372.0,476.5 C369.6,475.8 367.9,473.7 365.5,473.3 C363.1,472.9 359.8,474.4 357.8,474.4 C355.8,474.4 354.9,474.0 353.5,473.3 C352.1,472.6 350.8,471.1 349.1,470.0 C347.5,468.9 344.9,468.5 343.6,466.7 C342.3,464.9 340.6,460.9 341.5,459.1 Z" fill="#9c9c9c" stroke="#777" stroke-width="0.6" filter="url(#gtex)"/>
<circle cx="346" cy="463" r="5" fill="#c8c8c8" stroke="#888" stroke-width="0.6" fill-opacity="0.8"/>
<ellipse cx="374" cy="467" rx="10" ry="7" fill="#5a5a5a" filter="url(#bl2)"/>
<circle cx="381" cy="467" r="8.5" fill="none" stroke="#444" stroke-width="0.9"/>
<circle cx="381" cy="467" r="5.5" fill="none" stroke="#666" stroke-width="0.6"/>
<path d="M314.2,509.3 C316.6,507.3 321.8,506.0 325.1,506.0 C328.4,506.0 331.4,507.7 333.8,509.3 C336.2,510.9 337.5,513.2 339.3,515.8 C341.1,518.3 343.6,522.0 344.7,524.6 C345.8,527.2 346.5,529.3 345.8,531.1 C345.1,532.9 342.8,534.2 340.4,535.5 C338.0,536.8 334.5,538.4 331.6,538.7 C328.7,539.1 325.8,538.3 322.9,537.6 C320.0,536.9 316.4,536.2 314.2,534.4 C312.0,532.6 310.4,529.4 309.8,526.7 C309.2,524.0 310.2,520.9 310.9,518.0 C311.6,515.1 311.8,511.3 314.2,509.3 Z" fill="#9e9e9e" stroke="#777" stroke-width="0.6" filter="url(#gtex)"/>
<ellipse cx="327" cy="521" rx="10" ry="10" fill="#6e6e6e" filter="url(#bl2)"/>
<circle cx="316.1" cy="540.4" r="0.5" fill="#999" opacity="0.75"/><circle cx="299.8" cy="472.5" r="1.1" fill="#999" opacity="0.50"/><circle cx="363.8" cy="492.6" r="0.7" fill="#999" opacity="0.65"/><circle cx="312.1" cy="527.9" r="0.5" fill="#999" opacity="0.52"/><circle cx="292.3" cy="474.3" r="0.7" fill="#999" opacity="0.85"/><circle cx="333.6" cy="459.8" r="0.6" fill="#999" opacity="0.90"/><circle cx="297.3" cy="507.9" r="0.7" fill="#999" opacity="0.73"/><circle cx="328.9" cy="514.7" r="0.7" fill="#999" opacity="0.72"/><circle cx="393.7" cy="504.2" r="0.5" fill="#999" opacity="0.43"/><circle cx="398.8" cy="495.4" r="0.5" fill="#999" opacity="0.87"/><circle cx="356.6" cy="518.2" r="1.0" fill="#999" opacity="0.54"/><circle cx="331.0" cy="532.4" r="0.5" fill="#999" opacity="0.78"/><circle cx="301.2" cy="514.6" r="0.9" fill="#999" opacity="0.87"/><circle cx="387.0" cy="496.8" r="0.5" fill="#999" opacity="0.48"/><circle cx="350.8" cy="497.4" r="0.4" fill="#999" opacity="0.85"/><circle cx="348.4" cy="515.6" r="0.6" fill="#999" opacity="0.52"/><circle cx="291.4" cy="481.6" r="0.6" fill="#999" opacity="0.61"/><circle cx="333.3" cy="528.3" r="1.0" fill="#999" opacity="0.49"/><circle cx="335.6" cy="464.8" r="0.9" fill="#999" opacity="0.89"/><circle cx="313.2" cy="521.8" r="0.6" fill="#999" opacity="0.41"/><circle cx="377.9" cy="481.5" r="0.5" fill="#999" opacity="0.62"/><circle cx="316.6" cy="488.0" r="0.7" fill="#999" opacity="0.61"/><circle cx="357.7" cy="476.4" r="0.5" fill="#999" opacity="0.44"/><circle cx="302.3" cy="498.5" r="0.7" fill="#999" opacity="0.80"/><circle cx="348.1" cy="516.3" r="1.1" fill="#999" opacity="0.43"/><circle cx="291.9" cy="462.3" r="0.7" fill="#999" opacity="0.69"/><circle cx="375.5" cy="482.4" r="1.1" fill="#999" opacity="0.40"/><circle cx="386.1" cy="469.0" r="1.0" fill="#999" opacity="0.42"/><circle cx="401.0" cy="521.1" r="1.1" fill="#999" opacity="0.69"/><circle cx="310.4" cy="541.1" r="0.7" fill="#999" opacity="0.44"/><circle cx="359.6" cy="496.2" r="0.7" fill="#999" opacity="0.48"/><circle cx="304.0" cy="504.2" r="0.7" fill="#999" opacity="0.46"/><circle cx="340.5" cy="517.9" r="0.9" fill="#999" opacity="0.64"/><circle cx="335.3" cy="483.3" r="0.6" fill="#999" opacity="0.50"/><circle cx="341.3" cy="459.3" r="0.9" fill="#999" opacity="0.75"/><circle cx="360.3" cy="451.1" r="0.7" fill="#999" opacity="0.62"/><circle cx="300.7" cy="540.9" r="0.9" fill="#999" opacity="0.65"/><circle cx="371.1" cy="468.1" r="0.6" fill="#999" opacity="0.66"/><circle cx="375.6" cy="510.5" r="0.4" fill="#999" opacity="0.71"/><circle cx="394.5" cy="519.6" r="1.0" fill="#999" opacity="0.89"/><circle cx="315.7" cy="477.2" r="0.8" fill="#999" opacity="0.89"/><circle cx="332.5" cy="538.4" r="1.0" fill="#999" opacity="0.66"/><circle cx="361.9" cy="539.9" r="0.9" fill="#999" opacity="0.55"/><circle cx="387.3" cy="467.6" r="0.7" fill="#999" opacity="0.88"/><circle cx="387.4" cy="478.6" r="0.6" fill="#999" opacity="0.71"/>
<path d="M317.5,455.8 L321.7,463.8" stroke="#000" stroke-width="2" marker-end="url(#dah)"/>
<path d="M297.8,492.9 L303.4,488.8" stroke="#000" stroke-width="2" marker-end="url(#dah)"/>
<path d="M360,494 L358.2,485" stroke="#000" stroke-width="2" marker-end="url(#dah)"/>
<text x="295.8" y="529.1" font-size="8.8" fill="#1a1a1a" textLength="27.4" lengthAdjust="spacingAndGlyphs">200μm</text>
<path d="M300.7,537.1 L319.2,537.1 M300.7,534.1 L300.7,540.1 M319.2,534.1 L319.2,540.1" stroke="#1a1a1a" stroke-width="1.3"/>
</g>
<rect x="289.5" y="448.5" width="116.0" height="96.0" fill="none" stroke="#555" stroke-width="1.1"/>
<clipPath id="dclip31"><rect x="409" y="448.5" width="116.5" height="96.0"/></clipPath>
<g clip-path="url(#dclip31)">
<rect x="409" y="448.5" width="116.5" height="96.0" fill="#fbfbfb"/>
<circle cx="498.6" cy="463.5" r="11" fill="#909090" stroke="#444" stroke-width="1.6"/>
<ellipse cx="499" cy="464" rx="5" ry="5" fill="#444" filter="url(#bl2)"/>
<circle cx="421.2" cy="503.8" r="9" fill="#6a6a6a" stroke="#333" stroke-width="1.4"/>
<ellipse cx="421" cy="504" rx="5" ry="5" fill="#2a2a2a" filter="url(#bl1)"/>
<circle cx="434.3" cy="501.6" r="6" fill="#aaa" stroke="#666" stroke-width="0.9"/>
<circle cx="426.6" cy="522.4" r="7" fill="#eeeeee" stroke="#888" stroke-width="0.9"/>
<circle cx="508.5" cy="505" r="9" fill="#a8a8a8" stroke="#555" stroke-width="1.2"/>
<ellipse cx="508" cy="505" rx="3.5" ry="3.5" fill="#555" filter="url(#bl1)"/>
<circle cx="514" cy="521.3" r="7" fill="#d4d4d4" stroke="#666" stroke-width="1.0"/>
<circle cx="485" cy="449" r="4" fill="#ddd" stroke="#888" stroke-width="0.7"/>
<circle cx="463.2" cy="484.5" r="0.5" fill="#999" opacity="0.83"/><circle cx="410.7" cy="496.8" r="0.8" fill="#999" opacity="0.44"/><circle cx="473.7" cy="507.6" r="0.4" fill="#999" opacity="0.59"/><circle cx="490.9" cy="491.9" r="0.8" fill="#999" opacity="0.48"/><circle cx="437.4" cy="459.5" r="0.7" fill="#999" opacity="0.86"/><circle cx="477.9" cy="522.5" r="0.6" fill="#999" opacity="0.77"/><circle cx="421.7" cy="476.7" r="0.7" fill="#999" opacity="0.76"/><circle cx="458.5" cy="457.3" r="0.5" fill="#999" opacity="0.50"/><circle cx="442.3" cy="525.9" r="0.5" fill="#999" opacity="0.84"/><circle cx="511.1" cy="454.2" r="0.6" fill="#999" opacity="0.65"/><circle cx="412.7" cy="489.3" r="0.9" fill="#999" opacity="0.46"/><circle cx="478.6" cy="460.5" r="0.7" fill="#999" opacity="0.85"/><circle cx="433.4" cy="449.8" r="0.4" fill="#999" opacity="0.67"/><circle cx="412.0" cy="457.1" r="0.6" fill="#999" opacity="0.86"/><circle cx="458.3" cy="486.8" r="0.7" fill="#999" opacity="0.45"/><circle cx="476.7" cy="465.4" r="0.7" fill="#999" opacity="0.88"/><circle cx="416.2" cy="501.7" r="0.7" fill="#999" opacity="0.47"/><circle cx="440.9" cy="543.5" r="0.9" fill="#999" opacity="0.46"/><circle cx="491.1" cy="539.3" r="0.5" fill="#999" opacity="0.71"/><circle cx="414.9" cy="483.8" r="0.7" fill="#999" opacity="0.70"/><circle cx="499.1" cy="457.2" r="0.6" fill="#999" opacity="0.83"/><circle cx="477.2" cy="491.9" r="0.6" fill="#999" opacity="0.89"/><circle cx="476.1" cy="450.7" r="0.8" fill="#999" opacity="0.56"/><circle cx="459.9" cy="469.3" r="0.6" fill="#999" opacity="0.56"/><circle cx="420.2" cy="508.8" r="0.5" fill="#999" opacity="0.79"/>
<path d="M448.5,486.4 L444.3,492.7" stroke="#000" stroke-width="2" marker-end="url(#dah)"/>
<path d="M494.3,535 L502.7,529.7" stroke="#000" stroke-width="2" marker-end="url(#dah)"/>
<text x="415.3" y="529.1" font-size="8.8" fill="#1a1a1a" textLength="27.4" lengthAdjust="spacingAndGlyphs">200μm</text>
<path d="M420.2,537.1 L438.7,537.1 M420.2,534.1 L420.2,540.1 M438.7,534.1 L438.7,540.1" stroke="#1a1a1a" stroke-width="1.3"/>
</g>
<rect x="409" y="448.5" width="116.5" height="96.0" fill="none" stroke="#555" stroke-width="1.1"/>
<!-- ===== Panel E ===== -->
<defs>
<filter id="texb" x="-30%" y="-30%" width="160%" height="160%">
 <feGaussianBlur in="SourceGraphic" stdDeviation="1.3" result="b"/>
 <feTurbulence type="fractalNoise" baseFrequency="0.38" numOctaves="2" seed="7" result="n"/>
 <feColorMatrix in="n" type="matrix" values="2.2 0 0 0 -0.6  2.2 0 0 0 -0.6  2.2 0 0 0 -0.6  0 0 0 0 1" result="g"/>
 <feComposite in="b" in2="g" operator="arithmetic" k1="0.75" k2="0.45" k3="0" k4="0" result="c"/>
 <feGaussianBlur in="c" stdDeviation="0.35"/>
</filter>
<filter id="eb05" x="-50%" y="-50%" width="200%" height="200%"><feGaussianBlur stdDeviation="0.6"/></filter>
<filter id="eb1" x="-50%" y="-50%" width="200%" height="200%"><feGaussianBlur stdDeviation="1"/></filter>
<filter id="eb2" x="-50%" y="-50%" width="200%" height="200%"><feGaussianBlur stdDeviation="2"/></filter>
<filter id="eb3" x="-50%" y="-50%" width="200%" height="200%"><feGaussianBlur stdDeviation="3"/></filter>
<radialGradient id="gRim"><stop offset="0" stop-color="#3a0806"/><stop offset="0.55" stop-color="#5a0c06"/><stop offset="0.8" stop-color="#a01a10"/><stop offset="0.93" stop-color="#c82818"/><stop offset="1" stop-color="#c82818" stop-opacity="0"/></radialGradient>
<radialGradient id="gRimG"><stop offset="0" stop-color="#200604"/><stop offset="0.55" stop-color="#4a0c06"/><stop offset="0.78" stop-color="#981c10"/><stop offset="0.88" stop-color="#58a820"/><stop offset="0.95" stop-color="#30d830"/><stop offset="1" stop-color="#30d830" stop-opacity="0"/></radialGradient>
<radialGradient id="gE1" cx="0.55" cy="0.5" r="0.55"><stop offset="0" stop-color="#6a1008"/><stop offset="0.7" stop-color="#8a1408"/><stop offset="0.88" stop-color="#c82818"/><stop offset="1" stop-color="#b02010" stop-opacity="0.2"/></radialGradient>
<radialGradient id="gOrgRim"><stop offset="0" stop-color="#7a2a10"/><stop offset="0.6" stop-color="#a04418"/><stop offset="0.86" stop-color="#e07030"/><stop offset="1" stop-color="#e07030" stop-opacity="0"/></radialGradient>
<radialGradient id="gYelRim"><stop offset="0" stop-color="#8a5a18"/><stop offset="0.6" stop-color="#b08022"/><stop offset="0.86" stop-color="#e0c040"/><stop offset="1" stop-color="#e0c040" stop-opacity="0"/></radialGradient>
<radialGradient id="gSolid"><stop offset="0" stop-color="#901810"/><stop offset="0.8" stop-color="#a41e10"/><stop offset="0.94" stop-color="#c42818"/><stop offset="1" stop-color="#c42818" stop-opacity="0"/></radialGradient>
<radialGradient id="gOrg"><stop offset="0" stop-color="#d0a028"/><stop offset="0.45" stop-color="#c87822"/><stop offset="0.8" stop-color="#c83c18"/><stop offset="1" stop-color="#c83c18" stop-opacity="0"/></radialGradient>
<radialGradient id="gYel"><stop offset="0" stop-color="#c8b030"/><stop offset="0.7" stop-color="#c89a28"/><stop offset="0.9" stop-color="#e0c040"/><stop offset="1" stop-color="#e0c040" stop-opacity="0"/></radialGradient>
<radialGradient id="gHollow"><stop offset="0" stop-color="#000"/><stop offset="0.45" stop-color="#000"/><stop offset="0.6" stop-color="#b02010"/><stop offset="0.85" stop-color="#d84018"/><stop offset="1" stop-color="#c02010" stop-opacity="0"/></radialGradient>
</defs>
<text x="5.9" y="567.5" font-size="17" font-weight="bold" textLength="15" lengthAdjust="spacingAndGlyphs">E.</text>
<g transform="translate(129,565.3)"><circle r="6.4" fill="none" stroke="#000" stroke-width="2.4"/><path d="M4.6,-4.6 L11,-11 M5.2,-11.2 L11.2,-11.2 L11.2,-5.2" fill="none" stroke="#000" stroke-width="2.4"/></g>
<g transform="translate(265.4,559.7)"><circle r="6.4" fill="none" stroke="#000" stroke-width="2.4"/><path d="M0,6.4 L0,14.5 M-4.5,10.5 L4.5,10.5" fill="none" stroke="#000" stroke-width="2.4"/></g>
<text transform="translate(49.2,632) rotate(-90)" font-size="16.3" text-anchor="middle" fill="#111" textLength="44.5" lengthAdjust="spacingAndGlyphs">No IR</text>
<text transform="translate(49.4,756.3) rotate(-90)" font-size="16.3" text-anchor="middle" fill="#111" textLength="71.5" lengthAdjust="spacingAndGlyphs">IR (6 Gy)</text>
<clipPath id="ec78574m"><rect x="78.5" y="574.5" width="118.5" height="119.0"/></clipPath>
<clipPath id="ec78574i"><rect x="59.5" y="574.5" width="70.0" height="71.29999999999995"/></clipPath>
<rect x="78.5" y="574.5" width="118.5" height="119.0" fill="#000"/>
<g clip-path="url(#ec78574m)">
<path d="M38,0 C38,16 24,23 8,23 C-12,23 -30,14 -38,0 C-30,-14 -12,-23 8,-23 C24,-23 38,-16 38,0 Z" fill="url(#gOrgRim)" filter="url(#texb)" transform="translate(177.5,635.5) rotate(-40) scale(0.36,0.36)"/>
<ellipse cx="168" cy="643.5" rx="5.5" ry="3.5" fill="#1e9a1e" transform="rotate(-40,168,643.5)" filter="url(#texb)"/>
<g filter="url(#eb05)"><circle cx="168.3" cy="645.9" r="0.7" fill="#30d030" opacity="0.81"/><circle cx="168.6" cy="643.2" r="0.9" fill="#30d030" opacity="0.78"/><circle cx="169.8" cy="646.2" r="0.8" fill="#30d030" opacity="0.70"/><circle cx="169.9" cy="641.5" r="0.6" fill="#30d030" opacity="0.87"/><circle cx="167.3" cy="642.1" r="0.9" fill="#40ff40" opacity="0.65"/><circle cx="173.5" cy="643.7" r="0.7" fill="#30d030" opacity="0.86"/><circle cx="171.3" cy="641.8" r="0.9" fill="#30d030" opacity="0.98"/><circle cx="170.4" cy="644.8" r="0.5" fill="#30d030" opacity="0.61"/><circle cx="171.9" cy="642.4" r="0.8" fill="#30d030" opacity="0.71"/><circle cx="170.3" cy="640.4" r="0.8" fill="#30d030" opacity="0.79"/></g>
<ellipse cx="118" cy="673" rx="12.5" ry="15.5" fill="#a84018" transform="rotate(-10,118,673)" filter="url(#texb)"/>
<ellipse cx="117" cy="667" rx="10.5" ry="9.5" fill="url(#gYelRim)" filter="url(#texb)"/>
<ellipse cx="121" cy="683" rx="10" ry="5.5" fill="#c04818" filter="url(#texb)" opacity="0.9"/>
<ellipse cx="111" cy="658" rx="2.2" ry="1.8" fill="#30e030" filter="url(#eb1)"/>
<ellipse cx="107" cy="676" rx="2" ry="2.5" fill="#30d030" filter="url(#eb1)"/>
<ellipse cx="128.5" cy="680" rx="2.5" ry="2" fill="#30d030" filter="url(#eb1)"/>
<ellipse cx="115" cy="681" rx="1.5" ry="1.5" fill="#30d030" filter="url(#eb1)"/>
<ellipse cx="126" cy="685" rx="1.5" ry="1.5" fill="#208820" filter="url(#eb1)"/>
<ellipse cx="161" cy="667" rx="14" ry="9" fill="#0e3a0e" transform="rotate(-15,161,667)" filter="url(#eb2)"/>
<g filter="url(#eb05)"><circle cx="158.6" cy="670.1" r="0.9" fill="#30c030" opacity="0.91"/><circle cx="169.9" cy="670.8" r="1.0" fill="#40ff40" opacity="0.52"/><circle cx="157.6" cy="668.0" r="0.6" fill="#a02010" opacity="0.53"/><circle cx="148.5" cy="663.5" r="0.9" fill="#601008" opacity="0.97"/><circle cx="153.2" cy="664.4" r="1.1" fill="#30c030" opacity="0.78"/><circle cx="167.1" cy="671.3" r="0.8" fill="#601008" opacity="0.65"/><circle cx="163.4" cy="663.5" r="0.8" fill="#40ff40" opacity="0.69"/><circle cx="157.6" cy="666.3" r="0.5" fill="#40ff40" opacity="0.75"/><circle cx="148.9" cy="665.4" r="0.8" fill="#a02010" opacity="0.68"/><circle cx="161.1" cy="670.8" r="1.0" fill="#30c030" opacity="0.79"/><circle cx="148.1" cy="665.7" r="0.9" fill="#208820" opacity="0.80"/><circle cx="170.0" cy="669.9" r="0.6" fill="#208820" opacity="0.58"/><circle cx="158.2" cy="667.1" r="0.9" fill="#601008" opacity="0.79"/><circle cx="166.6" cy="663.4" r="0.9" fill="#601008" opacity="0.75"/><circle cx="162.1" cy="664.7" r="0.6" fill="#208820" opacity="0.74"/><circle cx="159.2" cy="665.1" r="0.9" fill="#601008" opacity="1.00"/><circle cx="164.3" cy="662.7" r="0.7" fill="#208820" opacity="0.51"/><circle cx="155.4" cy="667.9" r="0.6" fill="#30c030" opacity="0.61"/><circle cx="158.2" cy="674.5" r="0.7" fill="#a02010" opacity="0.54"/><circle cx="151.1" cy="669.1" r="1.0" fill="#a02010" opacity="0.93"/><circle cx="159.4" cy="672.7" r="0.7" fill="#a02010" opacity="0.98"/><circle cx="164.4" cy="670.1" r="0.6" fill="#40ff40" opacity="0.51"/><circle cx="163.9" cy="663.6" r="0.7" fill="#40ff40" opacity="0.71"/><circle cx="153.8" cy="672.0" r="1.1" fill="#601008" opacity="0.98"/><circle cx="154.2" cy="660.6" r="0.8" fill="#601008" opacity="0.70"/><circle cx="157.4" cy="668.7" r="0.9" fill="#30c030" opacity="0.60"/><circle cx="170.3" cy="666.4" r="0.6" fill="#601008" opacity="0.53"/><circle cx="166.4" cy="667.0" r="0.6" fill="#208820" opacity="0.81"/><circle cx="166.8" cy="668.8" r="0.7" fill="#208820" opacity="0.98"/><circle cx="153.3" cy="663.3" r="0.6" fill="#a02010" opacity="1.00"/><circle cx="151.5" cy="668.3" r="0.6" fill="#30c030" opacity="0.87"/><circle cx="160.4" cy="660.8" r="0.9" fill="#601008" opacity="0.51"/><circle cx="170.7" cy="665.0" r="0.6" fill="#601008" opacity="0.96"/><circle cx="161.4" cy="662.1" r="0.9" fill="#30c030" opacity="0.85"/><circle cx="160.4" cy="672.4" r="0.6" fill="#40ff40" opacity="0.77"/><circle cx="162.5" cy="661.9" r="0.6" fill="#40ff40" opacity="0.90"/><circle cx="166.0" cy="660.0" r="0.6" fill="#601008" opacity="0.75"/><circle cx="159.3" cy="658.1" r="1.0" fill="#a02010" opacity="0.63"/><circle cx="156.2" cy="658.8" r="0.8" fill="#208820" opacity="0.98"/><circle cx="156.7" cy="670.2" r="0.6" fill="#40ff40" opacity="0.67"/><circle cx="147.2" cy="668.0" r="0.9" fill="#30c030" opacity="0.74"/><circle cx="153.8" cy="660.4" r="0.6" fill="#30c030" opacity="0.95"/><circle cx="163.4" cy="659.4" r="0.8" fill="#40ff40" opacity="0.72"/><circle cx="158.3" cy="665.0" r="1.1" fill="#a02010" opacity="0.73"/><circle cx="160.8" cy="664.4" r="0.6" fill="#40ff40" opacity="0.51"/><circle cx="153.0" cy="663.7" r="0.9" fill="#601008" opacity="0.91"/><circle cx="172.3" cy="666.1" r="0.7" fill="#601008" opacity="0.77"/><circle cx="173.4" cy="668.1" r="0.9" fill="#30c030" opacity="0.76"/><circle cx="169.4" cy="664.6" r="1.0" fill="#40ff40" opacity="0.51"/><circle cx="163.3" cy="673.2" r="1.0" fill="#208820" opacity="0.63"/><circle cx="156.6" cy="668.6" r="1.0" fill="#208820" opacity="0.95"/><circle cx="154.4" cy="660.1" r="0.8" fill="#601008" opacity="0.57"/><circle cx="166.8" cy="672.2" r="1.0" fill="#40ff40" opacity="0.80"/><circle cx="161.9" cy="663.6" r="0.6" fill="#601008" opacity="0.86"/><circle cx="153.5" cy="665.2" r="0.8" fill="#601008" opacity="0.74"/></g>
<text x="160.9" y="681" font-size="10.8" font-weight="bold" fill="#fff" textLength="33.6" lengthAdjust="spacingAndGlyphs">200μm</text><path d="M167.20000000000002,687.2 L184.70000000000002,687.2 M167.20000000000002,684.0 L167.20000000000002,690.4000000000001 M184.70000000000002,684.0 L184.70000000000002,690.4000000000001" stroke="#fff" stroke-width="1.6"/>
</g>
<rect x="59.5" y="574.5" width="70.0" height="71.29999999999995" fill="#000"/>
<g clip-path="url(#ec78574i)">
<path d="M38,0 C38,16 24,23 8,23 C-12,23 -30,14 -38,0 C-30,-14 -12,-23 8,-23 C24,-23 38,-16 38,0 Z" fill="url(#gE1)" filter="url(#texb)" transform="translate(93.5,612) rotate(-44) scale(0.93)"/>
<path d="M14,-20 C30,-18 36,-9 36,0 C36,9 30,18 14,20" fill="none" stroke="#e83420" stroke-width="2.6" filter="url(#texb)" transform="translate(93.5,612) rotate(-44) scale(0.93)" opacity="0.9"/>
<g transform="translate(93.5,612) rotate(-44) scale(0.93)" filter="url(#texb)"><path d="M-36,-6 L-22,-11 M-37,2 L-20,3 M-34,9 L-19,13 M-30,-12 L-18,-17 M-27,15 L-16,18 M-33,-1 L-26,-4" stroke="#30d030" stroke-width="2.2" fill="none"/><path d="M-34,4 L-24,7 M-31,-8 L-23,-7" stroke="#c02010" stroke-width="2.4"/></g>
<g filter="url(#eb05)"><circle cx="66.1" cy="632.8" r="0.9" fill="#30d030" opacity="0.73"/><circle cx="76.9" cy="628.2" r="0.8" fill="#30d030" opacity="0.81"/><circle cx="74.9" cy="628.6" r="0.6" fill="#40ff40" opacity="0.77"/><circle cx="80.8" cy="626.9" r="0.7" fill="#30d030" opacity="0.98"/><circle cx="69.1" cy="625.8" r="0.5" fill="#40ff40" opacity="0.92"/><circle cx="75.9" cy="631.6" r="0.8" fill="#c02010" opacity="0.52"/><circle cx="66.9" cy="632.2" r="0.8" fill="#c02010" opacity="0.62"/><circle cx="73.8" cy="631.5" r="0.4" fill="#c02010" opacity="0.64"/><circle cx="85.0" cy="630.9" r="0.8" fill="#c02010" opacity="0.63"/><circle cx="74.4" cy="625.3" r="0.4" fill="#c02010" opacity="0.88"/><circle cx="65.8" cy="635.3" r="0.6" fill="#40ff40" opacity="0.92"/><circle cx="79.0" cy="631.0" r="0.9" fill="#30d030" opacity="0.69"/><circle cx="72.2" cy="626.0" r="0.7" fill="#40ff40" opacity="0.89"/><circle cx="73.6" cy="633.3" r="0.6" fill="#30d030" opacity="0.88"/><circle cx="78.0" cy="633.7" r="0.5" fill="#40ff40" opacity="0.73"/><circle cx="64.9" cy="631.5" r="0.5" fill="#c02010" opacity="0.60"/><circle cx="73.5" cy="628.1" r="0.7" fill="#40ff40" opacity="0.70"/><circle cx="74.2" cy="631.0" r="0.8" fill="#c02010" opacity="0.65"/><circle cx="77.8" cy="628.6" r="0.6" fill="#c02010" opacity="0.82"/><circle cx="82.8" cy="635.7" r="0.5" fill="#30d030" opacity="0.50"/><circle cx="66.3" cy="626.3" r="0.6" fill="#40ff40" opacity="0.55"/><circle cx="69.3" cy="629.0" r="0.7" fill="#30d030" opacity="0.81"/><circle cx="79.9" cy="635.4" r="0.8" fill="#40ff40" opacity="0.93"/><circle cx="75.8" cy="633.9" r="0.9" fill="#c02010" opacity="0.62"/><circle cx="77.5" cy="637.4" r="0.9" fill="#40ff40" opacity="0.84"/></g>
</g>
<path d="M129.5,574.5 L129.5,645.8 L78.5,645.8" fill="none" stroke="#b8b8b8" stroke-width="1.3"/>
<clipPath id="ec204574m"><rect x="204" y="574.5" width="133.39999999999998" height="119.0"/></clipPath>
<clipPath id="ec204574i"><rect x="284.8" y="574.5" width="74.19999999999999" height="70.0"/></clipPath>
<rect x="204" y="574.5" width="133.39999999999998" height="119.0" fill="#000"/>
<g clip-path="url(#ec204574m)">
<ellipse cx="214.7" cy="592.1" rx="10.5" ry="14.5" fill="url(#gRim)" transform="rotate(-15,214.7,592.1)" filter="url(#texb)"/>
<g filter="url(#eb05)"><circle cx="214.4" cy="600.3" r="0.8" fill="#e02818" opacity="0.83"/><circle cx="211.4" cy="583.9" r="0.8" fill="#e02818" opacity="0.57"/><circle cx="211.5" cy="591.1" r="0.6" fill="#c02010" opacity="0.56"/><circle cx="211.9" cy="582.9" r="1.0" fill="#e02818" opacity="0.54"/><circle cx="216.5" cy="582.9" r="0.6" fill="#c02010" opacity="0.87"/><circle cx="220.6" cy="589.2" r="0.6" fill="#e02818" opacity="0.74"/><circle cx="214.9" cy="584.5" r="0.7" fill="#c02010" opacity="0.94"/><circle cx="211.1" cy="585.8" r="0.7" fill="#c02010" opacity="0.85"/><circle cx="209.0" cy="589.1" r="0.6" fill="#c02010" opacity="0.77"/><circle cx="213.9" cy="596.1" r="0.7" fill="#c02010" opacity="0.73"/><circle cx="211.2" cy="588.1" r="0.6" fill="#c02010" opacity="0.78"/><circle cx="208.7" cy="588.2" r="0.9" fill="#e02818" opacity="0.54"/><circle cx="210.7" cy="584.1" r="0.7" fill="#c02010" opacity="0.97"/><circle cx="217.2" cy="593.0" r="0.9" fill="#c02010" opacity="0.82"/><circle cx="217.1" cy="597.4" r="0.9" fill="#c02010" opacity="0.60"/><circle cx="217.3" cy="587.1" r="0.9" fill="#e02818" opacity="0.95"/><circle cx="213.7" cy="587.3" r="0.7" fill="#e02818" opacity="0.79"/><circle cx="211.2" cy="588.7" r="0.9" fill="#c02010" opacity="0.59"/></g>
<path d="M209,580 C205,584 204,592 206,600 C207,603 209,605 211,606" fill="none" stroke="#30d030" stroke-width="2.6" filter="url(#texb)"/>
<path d="M222,583 C225,588 226,596 223,602" fill="none" stroke="#40c830" stroke-width="2.2" filter="url(#texb)" opacity="0.85"/>
<ellipse cx="250" cy="658.4" rx="10.5" ry="15" fill="url(#gRim)" transform="rotate(-25,250,658.4)" filter="url(#texb)"/>
<g filter="url(#eb05)"><circle cx="250.7" cy="657.8" r="0.9" fill="#e04020" opacity="0.96"/><circle cx="250.1" cy="660.3" r="0.9" fill="#e04020" opacity="0.93"/><circle cx="253.4" cy="658.0" r="0.7" fill="#c0a020" opacity="0.68"/><circle cx="246.8" cy="661.7" r="1.0" fill="#e04020" opacity="0.94"/><circle cx="251.0" cy="653.5" r="1.0" fill="#c0a020" opacity="0.71"/><circle cx="244.3" cy="653.7" r="0.7" fill="#c02010" opacity="0.78"/><circle cx="246.6" cy="663.8" r="1.0" fill="#c0a020" opacity="0.73"/><circle cx="251.1" cy="649.1" r="0.5" fill="#e04020" opacity="0.60"/><circle cx="244.6" cy="656.3" r="0.9" fill="#c0a020" opacity="0.51"/><circle cx="247.3" cy="657.3" r="0.9" fill="#e04020" opacity="0.70"/><circle cx="255.3" cy="661.8" r="1.0" fill="#c02010" opacity="0.70"/><circle cx="247.0" cy="657.9" r="1.0" fill="#c02010" opacity="0.54"/><circle cx="249.0" cy="661.8" r="0.8" fill="#c02010" opacity="0.95"/><circle cx="247.6" cy="663.7" r="0.5" fill="#c02010" opacity="0.74"/><circle cx="253.7" cy="662.7" r="0.7" fill="#c02010" opacity="0.96"/><circle cx="249.8" cy="652.6" r="0.5" fill="#e04020" opacity="0.97"/><circle cx="252.7" cy="663.9" r="0.7" fill="#c02010" opacity="0.52"/><circle cx="256.0" cy="661.5" r="0.8" fill="#c02010" opacity="0.62"/><circle cx="250.2" cy="651.3" r="0.9" fill="#c0a020" opacity="0.54"/><circle cx="254.0" cy="658.3" r="0.8" fill="#c02010" opacity="0.72"/></g>
<path d="M244,646 C240,650 239,658 241,664 C243,669 247,672 252,673" fill="none" stroke="#30e030" stroke-width="3" filter="url(#texb)"/>
<path d="M256,645 C259,648 261,652 261,656" fill="none" stroke="#40c030" stroke-width="1.8" filter="url(#texb)" opacity="0.7"/>
<ellipse cx="265.1" cy="676.4" rx="6" ry="9" fill="url(#gRim)" transform="rotate(-10,265.1,676.4)" filter="url(#texb)"/>
<ellipse cx="264.5" cy="678" rx="3" ry="5" fill="#b07018" transform="rotate(-10,264.5,678)" filter="url(#eb1)"/>
<path d="M265,668 C268,669 270,672 270.5,676" fill="none" stroke="#40d030" stroke-width="2.4" filter="url(#texb)"/>
<ellipse cx="279" cy="577.4" rx="1.3" ry="1.3" fill="#e02020"/>
<ellipse cx="278.2" cy="639" rx="1.2" ry="1.2" fill="#e02020"/>
<ellipse cx="242" cy="632.7" rx="1" ry="1" fill="#c02020"/>
<ellipse cx="232" cy="648" rx="2" ry="2" fill="#401010" filter="url(#eb1)"/>
<ellipse cx="296" cy="653" rx="3" ry="3" fill="#300808" filter="url(#eb1)"/>
<text x="301.3" y="680.4" font-size="10.8" font-weight="bold" fill="#fff" textLength="33.6" lengthAdjust="spacingAndGlyphs">200μm</text><path d="M307.6,686.6 L325.1,686.6 M307.6,683.4 L307.6,689.8000000000001 M325.1,683.4 L325.1,689.8000000000001" stroke="#fff" stroke-width="1.6"/>
</g>
<rect x="284.8" y="574.5" width="74.19999999999999" height="70.0" fill="#000"/>
<g clip-path="url(#ec204574i)">
<ellipse cx="313" cy="600" rx="26" ry="19.5" fill="#2a0604" transform="rotate(30,313,600)" filter="url(#eb2)"/>
<g filter="url(#eb05)"><circle cx="293.4" cy="598.1" r="1.0" fill="#a01810" opacity="0.58"/><circle cx="308.5" cy="589.4" r="0.6" fill="#d02010" opacity="0.61"/><circle cx="318.7" cy="591.1" r="0.9" fill="#a01810" opacity="0.79"/><circle cx="305.5" cy="588.3" r="0.6" fill="#d02010" opacity="0.56"/><circle cx="315.5" cy="593.6" r="0.9" fill="#e03018" opacity="0.65"/><circle cx="326.3" cy="608.9" r="0.5" fill="#901408" opacity="0.54"/><circle cx="327.1" cy="596.2" r="1.0" fill="#e03018" opacity="0.81"/><circle cx="299.9" cy="605.8" r="0.7" fill="#901408" opacity="0.67"/><circle cx="331.1" cy="604.1" r="0.7" fill="#901408" opacity="0.67"/><circle cx="316.1" cy="586.2" r="0.6" fill="#e03018" opacity="0.93"/><circle cx="300.0" cy="598.5" r="0.6" fill="#a01810" opacity="0.59"/><circle cx="300.0" cy="593.2" r="0.8" fill="#e03018" opacity="0.61"/><circle cx="308.4" cy="608.3" r="0.6" fill="#d02010" opacity="0.91"/><circle cx="302.9" cy="596.3" r="0.5" fill="#a01810" opacity="0.51"/><circle cx="312.5" cy="589.7" r="0.5" fill="#e03018" opacity="0.64"/><circle cx="332.5" cy="606.8" r="1.0" fill="#d02010" opacity="0.78"/><circle cx="304.9" cy="599.1" r="0.7" fill="#901408" opacity="0.58"/><circle cx="334.6" cy="599.6" r="0.8" fill="#e03018" opacity="0.52"/><circle cx="325.0" cy="598.6" r="0.9" fill="#a01810" opacity="0.86"/><circle cx="333.2" cy="604.4" r="0.5" fill="#a01810" opacity="0.88"/><circle cx="305.3" cy="592.0" r="0.5" fill="#d02010" opacity="0.74"/><circle cx="323.3" cy="599.1" r="1.0" fill="#e03018" opacity="0.86"/><circle cx="332.7" cy="604.3" r="0.8" fill="#901408" opacity="0.60"/><circle cx="298.4" cy="606.5" r="0.5" fill="#901408" opacity="0.84"/><circle cx="314.6" cy="608.4" r="0.6" fill="#a01810" opacity="0.77"/><circle cx="329.2" cy="597.3" r="0.8" fill="#d02010" opacity="0.90"/><circle cx="305.1" cy="610.0" r="1.0" fill="#e03018" opacity="0.78"/><circle cx="298.2" cy="611.1" r="0.9" fill="#a01810" opacity="0.70"/><circle cx="306.6" cy="601.4" r="0.6" fill="#d02010" opacity="0.59"/><circle cx="296.6" cy="594.2" r="0.9" fill="#901408" opacity="0.71"/><circle cx="318.0" cy="595.6" r="0.8" fill="#901408" opacity="0.51"/><circle cx="311.2" cy="614.9" r="0.9" fill="#901408" opacity="0.65"/><circle cx="310.6" cy="603.0" r="0.5" fill="#d02010" opacity="0.51"/><circle cx="292.4" cy="602.5" r="0.8" fill="#d02010" opacity="0.85"/><circle cx="322.3" cy="586.5" r="0.7" fill="#e03018" opacity="0.89"/><circle cx="326.7" cy="601.8" r="0.6" fill="#d02010" opacity="0.83"/><circle cx="333.2" cy="605.4" r="0.6" fill="#a01810" opacity="0.66"/><circle cx="293.8" cy="596.3" r="1.0" fill="#901408" opacity="0.91"/><circle cx="291.3" cy="597.6" r="0.5" fill="#d02010" opacity="0.78"/><circle cx="321.3" cy="593.6" r="0.6" fill="#e03018" opacity="0.74"/><circle cx="313.7" cy="610.5" r="0.6" fill="#d02010" opacity="0.61"/><circle cx="325.8" cy="604.3" r="0.8" fill="#901408" opacity="0.66"/><circle cx="317.9" cy="614.5" r="0.9" fill="#e03018" opacity="0.85"/><circle cx="325.6" cy="605.0" r="0.9" fill="#e03018" opacity="0.80"/><circle cx="323.5" cy="609.0" r="1.0" fill="#901408" opacity="0.86"/><circle cx="328.8" cy="590.0" r="0.7" fill="#e03018" opacity="0.58"/><circle cx="308.4" cy="587.2" r="0.7" fill="#a01810" opacity="0.74"/><circle cx="298.4" cy="603.7" r="0.6" fill="#e03018" opacity="0.72"/><circle cx="299.6" cy="599.9" r="0.8" fill="#a01810" opacity="0.72"/><circle cx="294.2" cy="606.0" r="0.7" fill="#e03018" opacity="0.53"/><circle cx="309.6" cy="607.7" r="1.0" fill="#901408" opacity="0.64"/><circle cx="331.5" cy="597.1" r="0.7" fill="#a01810" opacity="0.91"/><circle cx="304.7" cy="599.5" r="0.6" fill="#a01810" opacity="0.61"/><circle cx="317.7" cy="613.6" r="0.9" fill="#901408" opacity="0.67"/><circle cx="324.5" cy="597.2" r="1.0" fill="#e03018" opacity="0.90"/><circle cx="333.5" cy="601.0" r="0.8" fill="#a01810" opacity="0.80"/><circle cx="298.7" cy="600.5" r="0.6" fill="#a01810" opacity="0.70"/><circle cx="314.2" cy="594.0" r="0.7" fill="#e03018" opacity="0.59"/><circle cx="299.6" cy="610.7" r="1.0" fill="#e03018" opacity="0.84"/><circle cx="316.2" cy="596.6" r="0.8" fill="#a01810" opacity="0.82"/><circle cx="317.3" cy="585.8" r="0.7" fill="#901408" opacity="0.87"/><circle cx="322.1" cy="603.8" r="0.7" fill="#901408" opacity="0.60"/><circle cx="300.5" cy="606.0" r="0.9" fill="#e03018" opacity="0.65"/><circle cx="305.3" cy="604.6" r="0.6" fill="#d02010" opacity="0.71"/><circle cx="294.9" cy="608.2" r="0.7" fill="#e03018" opacity="0.72"/><circle cx="312.3" cy="605.4" r="0.6" fill="#e03018" opacity="0.52"/><circle cx="323.4" cy="607.0" r="0.5" fill="#a01810" opacity="0.88"/><circle cx="303.3" cy="591.3" r="0.8" fill="#a01810" opacity="0.86"/><circle cx="330.3" cy="602.5" r="0.9" fill="#a01810" opacity="0.74"/><circle cx="329.1" cy="593.8" r="0.6" fill="#a01810" opacity="0.91"/><circle cx="331.4" cy="596.1" r="0.6" fill="#a01810" opacity="0.67"/><circle cx="294.4" cy="604.4" r="1.0" fill="#a01810" opacity="0.94"/><circle cx="332.8" cy="600.7" r="0.6" fill="#e03018" opacity="0.88"/><circle cx="325.3" cy="607.4" r="0.5" fill="#901408" opacity="0.92"/><circle cx="306.3" cy="590.9" r="0.8" fill="#901408" opacity="0.52"/><circle cx="321.6" cy="594.9" r="1.0" fill="#d02010" opacity="0.85"/><circle cx="319.6" cy="605.4" r="0.9" fill="#a01810" opacity="0.64"/><circle cx="311.6" cy="601.7" r="0.5" fill="#d02010" opacity="0.79"/><circle cx="323.0" cy="605.2" r="0.9" fill="#901408" opacity="0.92"/><circle cx="327.4" cy="603.7" r="0.8" fill="#901408" opacity="0.63"/><circle cx="329.9" cy="594.5" r="0.8" fill="#e03018" opacity="0.84"/><circle cx="324.3" cy="603.7" r="0.5" fill="#e03018" opacity="0.88"/><circle cx="330.3" cy="596.4" r="0.9" fill="#901408" opacity="0.86"/><circle cx="328.0" cy="608.2" r="0.9" fill="#901408" opacity="0.73"/><circle cx="296.5" cy="606.8" r="0.6" fill="#e03018" opacity="0.75"/><circle cx="311.3" cy="588.4" r="0.9" fill="#e03018" opacity="0.89"/><circle cx="321.7" cy="589.4" r="0.7" fill="#e03018" opacity="0.78"/><circle cx="322.7" cy="588.8" r="0.7" fill="#901408" opacity="0.70"/><circle cx="319.6" cy="589.1" r="0.6" fill="#d02010" opacity="0.61"/><circle cx="311.8" cy="614.1" r="0.9" fill="#a01810" opacity="0.87"/><circle cx="309.4" cy="602.1" r="0.8" fill="#d02010" opacity="0.51"/><circle cx="294.5" cy="596.6" r="0.9" fill="#a01810" opacity="0.87"/><circle cx="308.4" cy="594.6" r="0.9" fill="#a01810" opacity="0.77"/><circle cx="320.6" cy="589.9" r="1.0" fill="#d02010" opacity="0.56"/><circle cx="324.9" cy="594.0" r="0.6" fill="#901408" opacity="0.91"/><circle cx="314.9" cy="600.1" r="0.7" fill="#901408" opacity="0.54"/><circle cx="316.0" cy="605.3" r="0.5" fill="#901408" opacity="0.65"/><circle cx="291.7" cy="602.2" r="0.8" fill="#a01810" opacity="0.82"/><circle cx="324.9" cy="593.7" r="0.6" fill="#e03018" opacity="0.72"/><circle cx="308.8" cy="607.1" r="0.9" fill="#a01810" opacity="0.65"/><circle cx="312.1" cy="609.4" r="0.7" fill="#a01810" opacity="0.84"/><circle cx="322.7" cy="598.0" r="0.6" fill="#a01810" opacity="0.55"/><circle cx="325.7" cy="602.2" r="0.7" fill="#e03018" opacity="0.73"/><circle cx="324.0" cy="612.3" r="1.0" fill="#d02010" opacity="0.72"/><circle cx="324.1" cy="589.9" r="0.9" fill="#901408" opacity="0.68"/><circle cx="304.7" cy="609.5" r="0.8" fill="#d02010" opacity="0.51"/><circle cx="321.3" cy="602.4" r="0.9" fill="#901408" opacity="0.79"/><circle cx="319.6" cy="606.7" r="0.9" fill="#e03018" opacity="0.91"/><circle cx="326.2" cy="588.7" r="0.7" fill="#e03018" opacity="0.75"/><circle cx="324.6" cy="598.1" r="0.9" fill="#901408" opacity="0.60"/></g>
<ellipse cx="313" cy="600" rx="25" ry="18.5" fill="none" stroke="#c02414" stroke-width="2.6" transform="rotate(30,313,600)" filter="url(#texb)"/>
<path d="M306,579.3 C302,579.5 298,580.5 294,583.5 C290,587 288.5,592 288.7,597 C289,602 291,605 293.5,607.7 C297,611.5 300,614.5 303.5,616.5 C308,619 312,620.5 318,620.8" fill="none" stroke="#34d030" stroke-width="3.6" stroke-linecap="round" filter="url(#texb)"/>
<path d="M291,590 L290,600 M296,610 L300,613" stroke="#c0b020" stroke-width="2" filter="url(#eb1)" opacity="0.7"/>
<ellipse cx="344.5" cy="627.3" rx="9.6" ry="9.6" fill="none" stroke="#c02414" stroke-width="6.4" filter="url(#texb)"/>
<path d="M349,618.5 C353,620.5 355.5,624 355.8,628 C355.8,632 354,635 351,637" fill="none" stroke="#40c030" stroke-width="3.5" filter="url(#texb)" opacity="0.85"/>
<path d="M337,620 C335,623 334.5,626 335,629" fill="none" stroke="#b0b020" stroke-width="2.5" filter="url(#eb1)" opacity="0.6"/>
</g>
<path d="M284.8,574.5 L284.8,644.5 L359,644.5" fill="none" stroke="#b8b8b8" stroke-width="1.3"/>
<clipPath id="ec78698m"><rect x="78.5" y="698.8" width="118.5" height="111.0"/></clipPath>
<clipPath id="ec78698i"><rect x="59.5" y="698.8" width="70.0" height="71.20000000000005"/></clipPath>
<rect x="78.5" y="698.8" width="118.5" height="111.0" fill="#000"/>
<g clip-path="url(#ec78698m)">
<ellipse cx="145" cy="706" rx="14" ry="7" fill="#3a0c08" filter="url(#eb3)"/>
<ellipse cx="177" cy="730.7" rx="8.5" ry="8.5" fill="url(#gOrg)" filter="url(#texb)"/>
<ellipse cx="107.3" cy="798" rx="7" ry="7" fill="url(#gOrg)" filter="url(#texb)"/>
<ellipse cx="162" cy="792.4" rx="7.5" ry="6.5" fill="url(#gOrg)" filter="url(#texb)"/>
<text x="160.5" y="797" font-size="10.8" font-weight="bold" fill="#fff" textLength="33.6" lengthAdjust="spacingAndGlyphs">200μm</text><path d="M166.8,803.2 L184.3,803.2 M166.8,800.0 L166.8,806.4000000000001 M184.3,800.0 L184.3,806.4000000000001" stroke="#fff" stroke-width="1.6"/>
</g>
<rect x="59.5" y="698.8" width="70.0" height="71.20000000000005" fill="#000"/>
<g clip-path="url(#ec78698i)">
<ellipse cx="96.5" cy="736.5" rx="31" ry="31" fill="#4a0a06" filter="url(#texb)"/>
<ellipse cx="96.5" cy="736.5" rx="30" ry="30" fill="url(#gRim)" filter="url(#texb)"/>
<g filter="url(#eb05)"><circle cx="86.3" cy="715.8" r="0.9" fill="#d02018" opacity="0.46"/><circle cx="110.5" cy="736.2" r="0.6" fill="#b01810" opacity="0.34"/><circle cx="74.7" cy="750.0" r="1.1" fill="#b01810" opacity="0.66"/><circle cx="116.7" cy="739.4" r="1.1" fill="#d02018" opacity="0.35"/><circle cx="73.2" cy="743.2" r="0.6" fill="#d02018" opacity="0.47"/><circle cx="114.5" cy="749.5" r="1.0" fill="#b01810" opacity="0.48"/><circle cx="116.1" cy="735.2" r="0.9" fill="#d02018" opacity="0.62"/><circle cx="108.5" cy="732.9" r="0.9" fill="#d02018" opacity="0.62"/><circle cx="89.0" cy="742.7" r="0.9" fill="#d02018" opacity="0.52"/><circle cx="71.9" cy="743.1" r="1.1" fill="#d02018" opacity="0.51"/><circle cx="104.8" cy="720.2" r="0.8" fill="#d02018" opacity="0.66"/><circle cx="96.6" cy="740.7" r="0.8" fill="#d02018" opacity="0.57"/><circle cx="82.0" cy="715.9" r="0.8" fill="#b01810" opacity="0.46"/><circle cx="94.9" cy="718.9" r="0.7" fill="#d02018" opacity="0.33"/><circle cx="86.9" cy="760.2" r="0.8" fill="#b01810" opacity="0.33"/><circle cx="75.4" cy="735.7" r="0.5" fill="#b01810" opacity="0.56"/><circle cx="104.7" cy="740.7" r="0.8" fill="#b01810" opacity="0.63"/><circle cx="101.7" cy="753.5" r="1.2" fill="#d02018" opacity="0.47"/><circle cx="106.1" cy="733.1" r="1.1" fill="#b01810" opacity="0.68"/><circle cx="114.2" cy="728.0" r="0.9" fill="#b01810" opacity="0.38"/><circle cx="90.1" cy="736.1" r="1.0" fill="#d02018" opacity="0.33"/><circle cx="91.7" cy="753.6" r="0.9" fill="#b01810" opacity="0.62"/><circle cx="102.9" cy="718.1" r="1.0" fill="#b01810" opacity="0.56"/><circle cx="90.7" cy="723.9" r="0.9" fill="#b01810" opacity="0.63"/><circle cx="118.8" cy="727.0" r="0.7" fill="#d02018" opacity="0.48"/><circle cx="113.4" cy="728.6" r="1.1" fill="#b01810" opacity="0.59"/><circle cx="89.3" cy="716.2" r="0.7" fill="#d02018" opacity="0.48"/><circle cx="110.5" cy="715.0" r="0.6" fill="#b01810" opacity="0.47"/><circle cx="111.6" cy="740.5" r="0.7" fill="#b01810" opacity="0.48"/><circle cx="95.8" cy="731.0" r="0.7" fill="#d02018" opacity="0.69"/><circle cx="76.6" cy="752.6" r="0.6" fill="#d02018" opacity="0.58"/><circle cx="72.3" cy="734.3" r="0.9" fill="#d02018" opacity="0.59"/><circle cx="105.9" cy="747.9" r="0.9" fill="#d02018" opacity="0.41"/><circle cx="104.8" cy="747.7" r="0.9" fill="#b01810" opacity="0.35"/><circle cx="91.6" cy="722.9" r="0.8" fill="#d02018" opacity="0.44"/><circle cx="101.2" cy="715.6" r="0.7" fill="#b01810" opacity="0.48"/><circle cx="78.4" cy="729.5" r="1.1" fill="#d02018" opacity="0.53"/><circle cx="99.1" cy="727.7" r="0.6" fill="#d02018" opacity="0.50"/><circle cx="86.1" cy="745.5" r="0.7" fill="#b01810" opacity="0.32"/><circle cx="78.9" cy="745.4" r="1.0" fill="#d02018" opacity="0.34"/></g>
</g>
<path d="M129.5,698.8 L129.5,770 L78.5,770" fill="none" stroke="#b8b8b8" stroke-width="1.3"/>
<clipPath id="ec203698m"><rect x="203.8" y="698.8" width="122.69999999999999" height="110.5"/></clipPath>
<clipPath id="ec203698i"><rect x="285" y="698.8" width="74" height="65.70000000000005"/></clipPath>
<rect x="203.8" y="698.8" width="122.69999999999999" height="110.5" fill="#000"/>
<g clip-path="url(#ec203698m)">
<ellipse cx="223" cy="710" rx="16" ry="8" fill="#3a0c08" filter="url(#eb3)"/>
<g filter="url(#eb05)"><circle cx="214.6" cy="708.8" r="0.8" fill="#701008" opacity="0.33"/><circle cx="231.4" cy="708.1" r="0.4" fill="#a01810" opacity="0.34"/><circle cx="216.3" cy="711.1" r="0.6" fill="#701008" opacity="0.43"/><circle cx="215.4" cy="707.2" r="0.8" fill="#701008" opacity="0.69"/><circle cx="225.5" cy="716.1" r="0.7" fill="#208020" opacity="0.53"/><circle cx="227.1" cy="715.4" r="0.5" fill="#208020" opacity="0.60"/><circle cx="229.1" cy="703.8" r="0.6" fill="#a01810" opacity="0.60"/><circle cx="223.5" cy="704.6" r="0.7" fill="#701008" opacity="0.63"/><circle cx="231.2" cy="704.6" r="0.8" fill="#701008" opacity="0.64"/><circle cx="221.9" cy="715.8" r="0.8" fill="#208020" opacity="0.46"/><circle cx="212.5" cy="712.9" r="0.6" fill="#208020" opacity="0.56"/><circle cx="216.9" cy="715.9" r="0.7" fill="#208020" opacity="0.59"/><circle cx="229.6" cy="709.3" r="0.5" fill="#a01810" opacity="0.46"/><circle cx="213.5" cy="712.7" r="0.6" fill="#701008" opacity="0.67"/><circle cx="236.5" cy="708.4" r="0.8" fill="#208020" opacity="0.42"/><circle cx="234.9" cy="710.3" r="0.8" fill="#a01810" opacity="0.51"/><circle cx="229.3" cy="710.2" r="0.6" fill="#a01810" opacity="0.33"/><circle cx="222.1" cy="706.5" r="0.4" fill="#a01810" opacity="0.35"/></g>
<ellipse cx="211" cy="713" rx="2" ry="2" fill="#206020" filter="url(#eb1)"/>
<ellipse cx="267" cy="741" rx="6.5" ry="5.5" fill="url(#gSolid)" transform="rotate(20,267,741)" filter="url(#texb)"/>
<ellipse cx="260.4" cy="737.4" rx="9" ry="8" fill="url(#gSolid)" filter="url(#texb)"/>
<ellipse cx="262" cy="740" rx="4" ry="3" fill="#b09020" filter="url(#eb1)"/>
<ellipse cx="251" cy="733.5" rx="3.5" ry="2" fill="#30d030" filter="url(#eb1)"/>
<ellipse cx="241" cy="757" rx="7" ry="4.5" fill="url(#gSolid)" transform="rotate(10,241,757)" filter="url(#texb)"/>
<ellipse cx="252" cy="755.4" rx="12" ry="11.5" fill="url(#gSolid)" filter="url(#texb)"/>
<ellipse cx="252" cy="755.4" rx="5.5" ry="5.5" fill="#20c020" filter="url(#texb)"/>
<ellipse cx="250.5" cy="780" rx="10" ry="9.5" fill="url(#gSolid)" filter="url(#texb)"/>
<ellipse cx="251" cy="780" rx="4" ry="4" fill="#c09020" filter="url(#texb)"/>
<ellipse cx="221" cy="796.3" rx="10" ry="9.5" fill="url(#gSolid)" filter="url(#texb)"/>
<ellipse cx="221" cy="796.3" rx="4" ry="4" fill="#c0a020" filter="url(#texb)"/>
<ellipse cx="309" cy="776" rx="9" ry="6" fill="url(#gSolid)" transform="rotate(-10,309,776)" filter="url(#texb)"/>
<ellipse cx="306" cy="781.6" rx="13.5" ry="10.5" fill="url(#gSolid)" filter="url(#texb)"/>
<ellipse cx="301" cy="783" rx="4" ry="3.5" fill="#c0b020" filter="url(#texb)"/>
<ellipse cx="313" cy="780" rx="4" ry="3.5" fill="#80a020" filter="url(#texb)"/>
<text x="289.8" y="799.6" font-size="10.8" font-weight="bold" fill="#fff" textLength="33.6" lengthAdjust="spacingAndGlyphs">200μm</text><path d="M296.1,805.8000000000001 L313.6,805.8000000000001 M296.1,802.6 L296.1,809.0000000000001 M313.6,802.6 L313.6,809.0000000000001" stroke="#fff" stroke-width="1.6"/>
</g>
<rect x="285" y="698.8" width="74" height="65.70000000000005" fill="#000"/>
<g clip-path="url(#ec203698i)">
<path d="M300,712 C305,704 318,706 330,708 C345,706 356,710 358,720 C360,735 357,750 352,765 L286,765 L286,742 C292,738 300,735 302,728 C300,722 297,716 300,712 Z" fill="#901808" filter="url(#texb)"/>
<ellipse cx="326" cy="732" rx="12" ry="18" fill="#c03018" filter="url(#texb)" opacity="0.6"/>
<ellipse cx="348" cy="745" rx="9" ry="14" fill="#5a0c06" filter="url(#eb3)" opacity="0.6"/>
<ellipse cx="330" cy="738" rx="5" ry="9" fill="#d0a020" filter="url(#texb)"/>
<g filter="url(#eb05)"><circle cx="349.1" cy="723.9" r="1.0" fill="#e03018" opacity="0.51"/><circle cx="325.3" cy="749.4" r="0.7" fill="#d06020" opacity="0.60"/><circle cx="320.3" cy="739.0" r="0.8" fill="#e03018" opacity="0.55"/><circle cx="345.4" cy="732.9" r="0.5" fill="#d06020" opacity="0.87"/><circle cx="326.7" cy="739.6" r="1.0" fill="#d06020" opacity="0.68"/><circle cx="334.8" cy="745.2" r="0.9" fill="#d06020" opacity="0.88"/><circle cx="318.7" cy="748.9" r="0.9" fill="#c02010" opacity="0.79"/><circle cx="333.6" cy="725.3" r="0.8" fill="#c02010" opacity="0.84"/><circle cx="340.2" cy="754.1" r="0.8" fill="#d06020" opacity="0.91"/><circle cx="332.5" cy="743.0" r="0.6" fill="#e03018" opacity="0.78"/><circle cx="340.8" cy="730.1" r="0.9" fill="#e03018" opacity="0.68"/><circle cx="327.1" cy="748.4" r="1.0" fill="#d06020" opacity="0.61"/><circle cx="340.2" cy="750.9" r="0.6" fill="#c02010" opacity="0.62"/><circle cx="309.8" cy="728.2" r="0.9" fill="#c02010" opacity="0.58"/><circle cx="335.1" cy="734.1" r="0.7" fill="#e03018" opacity="0.58"/><circle cx="330.4" cy="737.8" r="0.6" fill="#d06020" opacity="0.97"/><circle cx="308.8" cy="729.0" r="0.9" fill="#c02010" opacity="0.51"/><circle cx="333.7" cy="718.0" r="0.5" fill="#c02010" opacity="0.73"/><circle cx="337.0" cy="757.8" r="1.1" fill="#e03018" opacity="0.55"/><circle cx="313.4" cy="728.0" r="0.9" fill="#d06020" opacity="0.91"/><circle cx="329.7" cy="751.2" r="1.0" fill="#c02010" opacity="0.88"/><circle cx="322.2" cy="721.6" r="0.6" fill="#d06020" opacity="0.84"/><circle cx="314.4" cy="745.9" r="1.0" fill="#d06020" opacity="0.87"/><circle cx="316.2" cy="730.4" r="0.7" fill="#d06020" opacity="0.80"/><circle cx="341.1" cy="739.2" r="0.5" fill="#e03018" opacity="0.67"/><circle cx="311.3" cy="726.7" r="0.6" fill="#d06020" opacity="0.54"/><circle cx="315.0" cy="728.0" r="0.6" fill="#d06020" opacity="0.98"/><circle cx="336.7" cy="711.3" r="0.7" fill="#c02010" opacity="0.69"/><circle cx="331.8" cy="725.8" r="1.0" fill="#e03018" opacity="0.90"/><circle cx="347.5" cy="738.8" r="0.9" fill="#e03018" opacity="0.71"/><circle cx="327.1" cy="754.0" r="1.1" fill="#d06020" opacity="0.78"/><circle cx="318.2" cy="732.8" r="1.0" fill="#e03018" opacity="0.61"/><circle cx="349.2" cy="744.0" r="0.7" fill="#e03018" opacity="0.84"/><circle cx="320.6" cy="726.7" r="0.7" fill="#c02010" opacity="0.90"/><circle cx="326.9" cy="758.8" r="0.6" fill="#e03018" opacity="0.71"/><circle cx="336.2" cy="719.2" r="0.8" fill="#c02010" opacity="0.77"/><circle cx="325.1" cy="720.6" r="1.0" fill="#e03018" opacity="0.75"/><circle cx="341.5" cy="745.9" r="0.6" fill="#d06020" opacity="0.88"/><circle cx="334.2" cy="735.2" r="1.0" fill="#e03018" opacity="0.62"/><circle cx="347.4" cy="732.8" r="0.5" fill="#e03018" opacity="0.64"/><circle cx="324.5" cy="742.3" r="1.0" fill="#e03018" opacity="0.59"/><circle cx="312.8" cy="733.9" r="0.7" fill="#e03018" opacity="0.81"/><circle cx="324.3" cy="716.6" r="0.5" fill="#e03018" opacity="0.96"/><circle cx="331.2" cy="738.1" r="0.9" fill="#e03018" opacity="0.97"/><circle cx="324.2" cy="757.8" r="0.7" fill="#e03018" opacity="0.91"/><circle cx="316.5" cy="723.4" r="0.7" fill="#e03018" opacity="0.68"/><circle cx="335.5" cy="744.8" r="1.1" fill="#c02010" opacity="0.88"/><circle cx="332.9" cy="753.9" r="1.1" fill="#d06020" opacity="0.68"/><circle cx="319.0" cy="717.4" r="1.1" fill="#c02010" opacity="0.73"/><circle cx="318.4" cy="714.4" r="0.9" fill="#c02010" opacity="0.69"/></g>
<ellipse cx="294.7" cy="721" rx="6.5" ry="7.5" fill="#20d020" filter="url(#texb)"/>
<ellipse cx="296" cy="722" rx="3.5" ry="4" fill="#50ff40" filter="url(#eb1)"/>
</g>
<path d="M285,698.8 L285,764.5 L359,764.5" fill="none" stroke="#b8b8b8" stroke-width="1.3"/>
<path d="M203.8,810.2 L331,810.2" stroke="#999" stroke-width="0.8"/>
</svg>
</body></html>
